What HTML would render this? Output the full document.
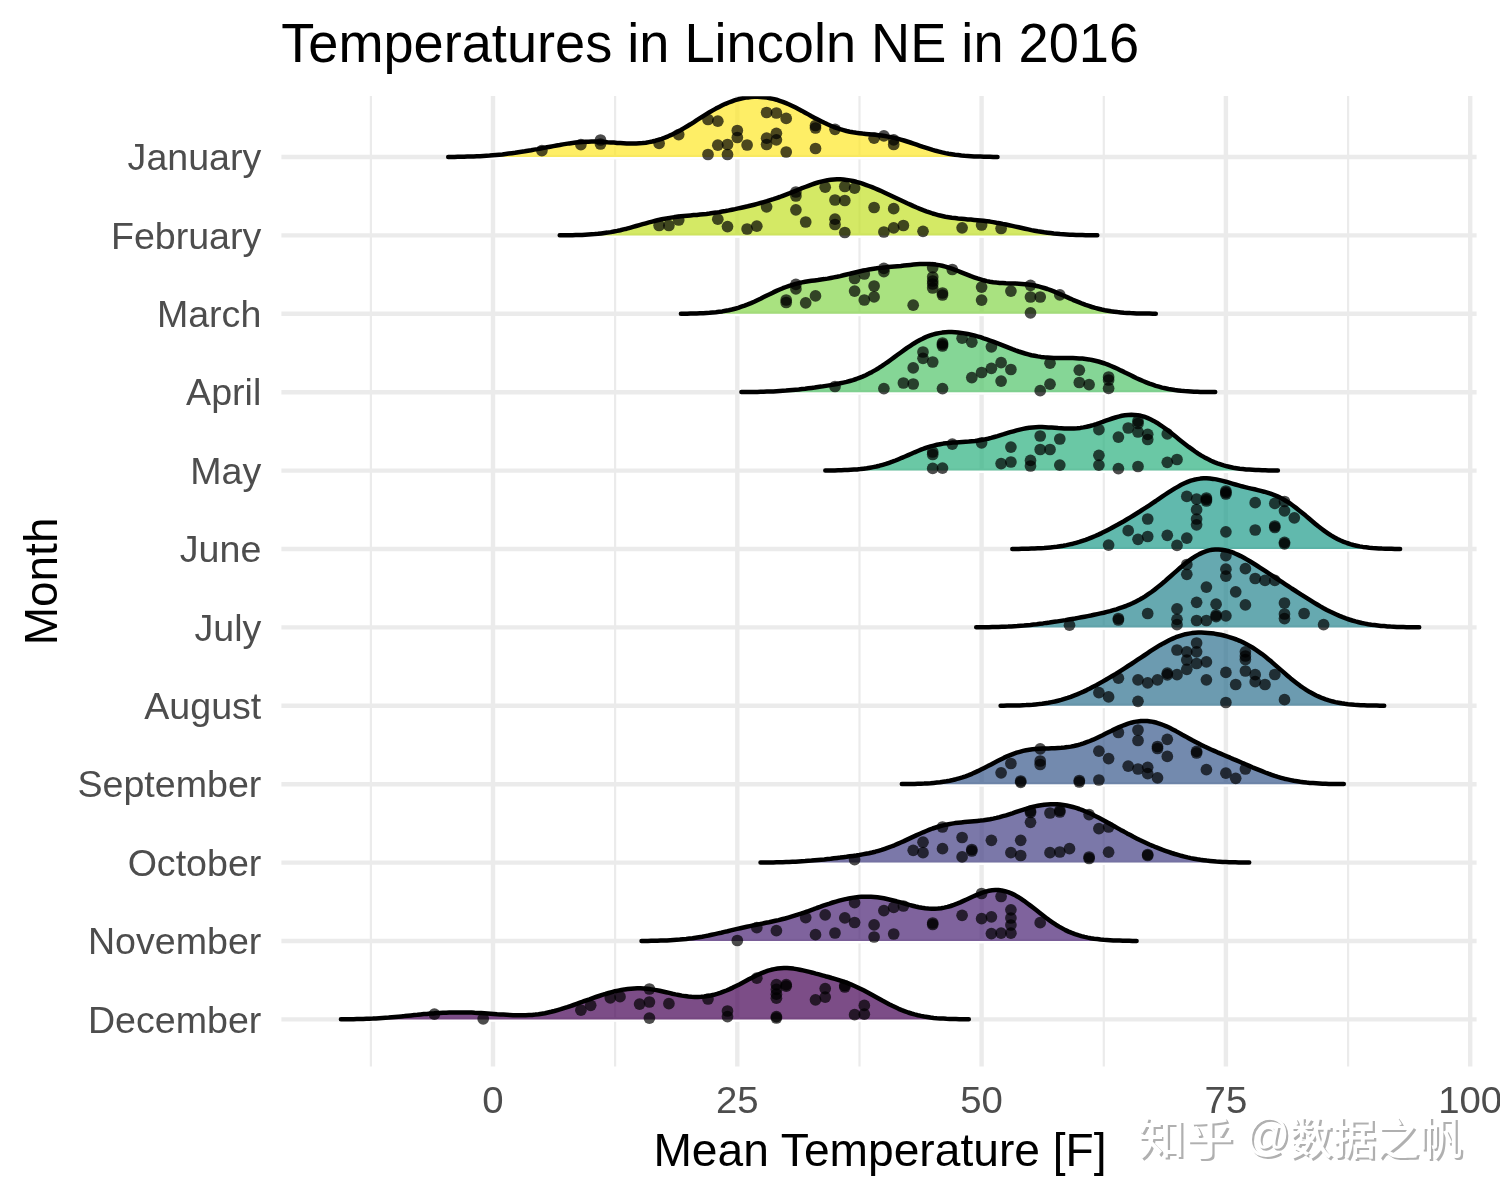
<!DOCTYPE html>
<html lang="en"><head><meta charset="utf-8"><title>Temperatures in Lincoln NE in 2016</title>
<style>html,body{margin:0;padding:0;background:#fff}body{width:1500px;height:1200px;position:relative;overflow:hidden}</style></head>
<body>
<svg width="1500" height="1200" viewBox="0 0 1500 1200" style="display:block;position:absolute;left:0;top:0">
<rect x="0" y="0" width="1500" height="1200" fill="#fff"/>
<g><line x1="370.9" x2="370.9" y1="96" y2="1066.4" stroke="#ebebeb" stroke-width="2.2"/><line x1="615.1" x2="615.1" y1="96" y2="1066.4" stroke="#ebebeb" stroke-width="2.2"/><line x1="859.5" x2="859.5" y1="96" y2="1066.4" stroke="#ebebeb" stroke-width="2.2"/><line x1="1103.8" x2="1103.8" y1="96" y2="1066.4" stroke="#ebebeb" stroke-width="2.2"/><line x1="1348.1" x2="1348.1" y1="96" y2="1066.4" stroke="#ebebeb" stroke-width="2.2"/><line x1="493.0" x2="493.0" y1="96" y2="1066.4" stroke="#ebebeb" stroke-width="4.4"/><line x1="737.3" x2="737.3" y1="96" y2="1066.4" stroke="#ebebeb" stroke-width="4.4"/><line x1="981.6" x2="981.6" y1="96" y2="1066.4" stroke="#ebebeb" stroke-width="4.4"/><line x1="1225.9" x2="1225.9" y1="96" y2="1066.4" stroke="#ebebeb" stroke-width="4.4"/><line x1="1470.2" x2="1470.2" y1="96" y2="1066.4" stroke="#ebebeb" stroke-width="4.4"/><line x1="281.4" x2="1476.6" y1="157.0" y2="157.0" stroke="#ebebeb" stroke-width="4.4"/><line x1="281.4" x2="1476.6" y1="235.4" y2="235.4" stroke="#ebebeb" stroke-width="4.4"/><line x1="281.4" x2="1476.6" y1="313.8" y2="313.8" stroke="#ebebeb" stroke-width="4.4"/><line x1="281.4" x2="1476.6" y1="392.2" y2="392.2" stroke="#ebebeb" stroke-width="4.4"/><line x1="281.4" x2="1476.6" y1="470.6" y2="470.6" stroke="#ebebeb" stroke-width="4.4"/><line x1="281.4" x2="1476.6" y1="549.0" y2="549.0" stroke="#ebebeb" stroke-width="4.4"/><line x1="281.4" x2="1476.6" y1="627.4" y2="627.4" stroke="#ebebeb" stroke-width="4.4"/><line x1="281.4" x2="1476.6" y1="705.8" y2="705.8" stroke="#ebebeb" stroke-width="4.4"/><line x1="281.4" x2="1476.6" y1="784.2" y2="784.2" stroke="#ebebeb" stroke-width="4.4"/><line x1="281.4" x2="1476.6" y1="862.6" y2="862.6" stroke="#ebebeb" stroke-width="4.4"/><line x1="281.4" x2="1476.6" y1="941.0" y2="941.0" stroke="#ebebeb" stroke-width="4.4"/><line x1="281.4" x2="1476.6" y1="1019.4" y2="1019.4" stroke="#ebebeb" stroke-width="4.4"/></g>
<defs><clipPath id="panel"><rect x="281.4" y="96.3" width="1195.1999999999998" height="970.1000000000001"/></clipPath></defs>
<g clip-path="url(#panel)">
<g><rect x="448.2" y="157.0" width="549.3" height="2.4" fill="#fff"/><polygon points="448.2,157.0 448.2,156.9 451.4,156.9 454.6,156.9 457.7,156.8 460.9,156.8 464.1,156.7 467.3,156.6 470.5,156.5 473.7,156.4 476.9,156.3 480.1,156.2 483.2,156.0 486.4,155.8 489.6,155.6 492.8,155.3 496.0,155.0 499.2,154.7 502.4,154.4 505.6,154.0 508.7,153.6 511.9,153.2 515.1,152.8 518.3,152.3 521.5,151.8 524.7,151.3 527.9,150.7 531.1,150.2 534.2,149.6 537.4,149.1 540.6,148.5 543.8,147.9 547.0,147.3 550.2,146.7 553.4,146.1 556.6,145.5 559.7,145.0 562.9,144.4 566.1,143.9 569.3,143.4 572.5,143.0 575.7,142.6 578.9,142.3 582.1,142.0 585.2,141.8 588.4,141.7 591.6,141.6 594.8,141.6 598.0,141.7 601.2,141.8 604.4,141.9 607.5,142.2 610.7,142.4 613.9,142.6 617.1,142.9 620.3,143.1 623.5,143.3 626.7,143.5 629.9,143.6 633.0,143.6 636.2,143.5 639.4,143.3 642.6,143.1 645.8,142.7 649.0,142.1 652.2,141.5 655.4,140.7 658.5,139.8 661.7,138.8 664.9,137.6 668.1,136.3 671.3,134.9 674.5,133.3 677.7,131.7 680.9,130.0 684.0,128.1 687.2,126.2 690.4,124.3 693.6,122.3 696.8,120.2 700.0,118.2 703.2,116.2 706.4,114.2 709.5,112.2 712.7,110.4 715.9,108.6 719.1,106.9 722.3,105.3 725.5,103.8 728.7,102.5 731.9,101.3 735.0,100.2 738.2,99.3 741.4,98.5 744.6,97.9 747.8,97.4 751.0,97.0 754.2,96.8 757.3,96.8 760.5,96.9 763.7,97.2 766.9,97.6 770.1,98.2 773.3,98.9 776.5,99.7 779.7,100.8 782.8,101.9 786.0,103.2 789.2,104.5 792.4,106.0 795.6,107.6 798.8,109.2 802.0,110.9 805.2,112.7 808.3,114.4 811.5,116.2 814.7,117.9 817.9,119.6 821.1,121.2 824.3,122.8 827.5,124.3 830.7,125.7 833.8,127.0 837.0,128.1 840.2,129.2 843.4,130.1 846.6,131.0 849.8,131.7 853.0,132.3 856.2,132.8 859.3,133.2 862.5,133.6 865.7,133.9 868.9,134.2 872.1,134.5 875.3,134.8 878.5,135.2 881.7,135.6 884.8,136.0 888.0,136.6 891.2,137.2 894.4,137.9 897.6,138.7 900.8,139.6 904.0,140.5 907.1,141.5 910.3,142.5 913.5,143.6 916.7,144.7 919.9,145.8 923.1,146.9 926.3,147.9 929.5,148.9 932.6,149.9 935.8,150.8 939.0,151.6 942.2,152.4 945.4,153.1 948.6,153.7 951.8,154.2 955.0,154.7 958.1,155.1 961.3,155.5 964.5,155.8 967.7,156.0 970.9,156.2 974.1,156.4 977.3,156.5 980.5,156.6 983.6,156.7 986.8,156.8 990.0,156.8 993.2,156.9 996.4,156.9 997.5,156.9 997.5,157.0" fill="#FDE725" fill-opacity="0.7"/>
<polyline points="448.2,156.9 451.4,156.9 454.6,156.9 457.7,156.8 460.9,156.8 464.1,156.7 467.3,156.6 470.5,156.5 473.7,156.4 476.9,156.3 480.1,156.2 483.2,156.0 486.4,155.8 489.6,155.6 492.8,155.3 496.0,155.0 499.2,154.7 502.4,154.4 505.6,154.0 508.7,153.6 511.9,153.2 515.1,152.8 518.3,152.3 521.5,151.8 524.7,151.3 527.9,150.7 531.1,150.2 534.2,149.6 537.4,149.1 540.6,148.5 543.8,147.9 547.0,147.3 550.2,146.7 553.4,146.1 556.6,145.5 559.7,145.0 562.9,144.4 566.1,143.9 569.3,143.4 572.5,143.0 575.7,142.6 578.9,142.3 582.1,142.0 585.2,141.8 588.4,141.7 591.6,141.6 594.8,141.6 598.0,141.7 601.2,141.8 604.4,141.9 607.5,142.2 610.7,142.4 613.9,142.6 617.1,142.9 620.3,143.1 623.5,143.3 626.7,143.5 629.9,143.6 633.0,143.6 636.2,143.5 639.4,143.3 642.6,143.1 645.8,142.7 649.0,142.1 652.2,141.5 655.4,140.7 658.5,139.8 661.7,138.8 664.9,137.6 668.1,136.3 671.3,134.9 674.5,133.3 677.7,131.7 680.9,130.0 684.0,128.1 687.2,126.2 690.4,124.3 693.6,122.3 696.8,120.2 700.0,118.2 703.2,116.2 706.4,114.2 709.5,112.2 712.7,110.4 715.9,108.6 719.1,106.9 722.3,105.3 725.5,103.8 728.7,102.5 731.9,101.3 735.0,100.2 738.2,99.3 741.4,98.5 744.6,97.9 747.8,97.4 751.0,97.0 754.2,96.8 757.3,96.8 760.5,96.9 763.7,97.2 766.9,97.6 770.1,98.2 773.3,98.9 776.5,99.7 779.7,100.8 782.8,101.9 786.0,103.2 789.2,104.5 792.4,106.0 795.6,107.6 798.8,109.2 802.0,110.9 805.2,112.7 808.3,114.4 811.5,116.2 814.7,117.9 817.9,119.6 821.1,121.2 824.3,122.8 827.5,124.3 830.7,125.7 833.8,127.0 837.0,128.1 840.2,129.2 843.4,130.1 846.6,131.0 849.8,131.7 853.0,132.3 856.2,132.8 859.3,133.2 862.5,133.6 865.7,133.9 868.9,134.2 872.1,134.5 875.3,134.8 878.5,135.2 881.7,135.6 884.8,136.0 888.0,136.6 891.2,137.2 894.4,137.9 897.6,138.7 900.8,139.6 904.0,140.5 907.1,141.5 910.3,142.5 913.5,143.6 916.7,144.7 919.9,145.8 923.1,146.9 926.3,147.9 929.5,148.9 932.6,149.9 935.8,150.8 939.0,151.6 942.2,152.4 945.4,153.1 948.6,153.7 951.8,154.2 955.0,154.7 958.1,155.1 961.3,155.5 964.5,155.8 967.7,156.0 970.9,156.2 974.1,156.4 977.3,156.5 980.5,156.6 983.6,156.7 986.8,156.8 990.0,156.8 993.2,156.9 996.4,156.9 997.5,156.9" fill="none" stroke="#000" stroke-width="4.5" stroke-linejoin="round" stroke-linecap="round"/>
<g fill="#000" fill-opacity="0.7"><circle cx="541.9" cy="150.6" r="5.85"/><circle cx="580.9" cy="144.6" r="5.85"/><circle cx="600.5" cy="144.0" r="5.85"/><circle cx="600.5" cy="140.0" r="5.85"/><circle cx="659.1" cy="143.4" r="5.85"/><circle cx="678.7" cy="134.6" r="5.85"/><circle cx="708.0" cy="119.5" r="5.85"/><circle cx="717.8" cy="121.2" r="5.85"/><circle cx="708.0" cy="154.5" r="5.85"/><circle cx="717.8" cy="145.2" r="5.85"/><circle cx="727.5" cy="144.5" r="5.85"/><circle cx="727.5" cy="154.5" r="5.85"/><circle cx="737.3" cy="130.5" r="5.85"/><circle cx="737.3" cy="137.5" r="5.85"/><circle cx="747.1" cy="145.0" r="5.85"/><circle cx="766.6" cy="112.5" r="5.85"/><circle cx="776.4" cy="113.0" r="5.85"/><circle cx="786.2" cy="118.4" r="5.85"/><circle cx="766.6" cy="138.2" r="5.85"/><circle cx="766.6" cy="144.5" r="5.85"/><circle cx="776.4" cy="133.3" r="5.85"/><circle cx="776.4" cy="139.8" r="5.85"/><circle cx="786.2" cy="152.0" r="5.85"/><circle cx="815.5" cy="125.5" r="5.85"/><circle cx="815.5" cy="128.0" r="5.85"/><circle cx="815.5" cy="148.5" r="5.85"/><circle cx="835.0" cy="129.3" r="5.85"/><circle cx="874.1" cy="138.2" r="5.85"/><circle cx="883.9" cy="135.9" r="5.85"/><circle cx="893.7" cy="139.8" r="5.85"/><circle cx="893.7" cy="144.5" r="5.85"/></g></g>
<g><rect x="559.7" y="235.4" width="537.6" height="2.4" fill="#fff"/><polygon points="559.7,235.4 559.7,235.3 562.9,235.3 566.1,235.3 569.3,235.2 572.5,235.2 575.7,235.1 578.9,235.0 582.1,234.9 585.2,234.7 588.4,234.5 591.6,234.3 594.8,234.1 598.0,233.8 601.2,233.4 604.4,233.0 607.5,232.6 610.7,232.1 613.9,231.5 617.1,230.9 620.3,230.2 623.5,229.4 626.7,228.7 629.9,227.8 633.0,226.9 636.2,226.0 639.4,225.1 642.6,224.2 645.8,223.3 649.0,222.4 652.2,221.6 655.4,220.8 658.5,220.0 661.7,219.3 664.9,218.7 668.1,218.1 671.3,217.6 674.5,217.1 677.7,216.7 680.9,216.3 684.0,216.0 687.2,215.7 690.4,215.4 693.6,215.1 696.8,214.9 700.0,214.5 703.2,214.2 706.4,213.9 709.5,213.5 712.7,213.0 715.9,212.6 719.1,212.1 722.3,211.5 725.5,211.0 728.7,210.4 731.9,209.7 735.0,209.1 738.2,208.4 741.4,207.7 744.6,207.0 747.8,206.3 751.0,205.5 754.2,204.7 757.3,203.9 760.5,203.0 763.7,202.1 766.9,201.2 770.1,200.2 773.3,199.2 776.5,198.1 779.7,197.0 782.8,195.8 786.0,194.6 789.2,193.4 792.4,192.1 795.6,190.8 798.8,189.5 802.0,188.2 805.2,187.0 808.3,185.8 811.5,184.6 814.7,183.5 817.9,182.5 821.1,181.6 824.3,180.9 827.5,180.2 830.7,179.8 833.8,179.5 837.0,179.3 840.2,179.3 843.4,179.5 846.6,179.9 849.8,180.4 853.0,181.0 856.2,181.8 859.3,182.7 862.5,183.7 865.7,184.8 868.9,186.0 872.1,187.2 875.3,188.5 878.5,189.9 881.7,191.3 884.8,192.7 888.0,194.2 891.2,195.7 894.4,197.2 897.6,198.7 900.8,200.2 904.0,201.7 907.1,203.2 910.3,204.6 913.5,206.1 916.7,207.5 919.9,208.8 923.1,210.1 926.3,211.3 929.5,212.4 932.6,213.5 935.8,214.4 939.0,215.3 942.2,216.0 945.4,216.7 948.6,217.2 951.8,217.7 955.0,218.1 958.1,218.5 961.3,218.8 964.5,219.1 967.7,219.4 970.9,219.6 974.1,219.9 977.3,220.2 980.5,220.5 983.6,220.8 986.8,221.2 990.0,221.6 993.2,222.1 996.4,222.7 999.6,223.2 1002.8,223.9 1006.0,224.5 1009.1,225.2 1012.3,225.9 1015.5,226.6 1018.7,227.3 1021.9,228.0 1025.1,228.7 1028.3,229.4 1031.4,230.1 1034.6,230.7 1037.8,231.3 1041.0,231.8 1044.2,232.3 1047.4,232.7 1050.6,233.1 1053.8,233.5 1056.9,233.8 1060.1,234.1 1063.3,234.3 1066.5,234.5 1069.7,234.7 1072.9,234.8 1076.1,234.9 1079.3,235.0 1082.4,235.1 1085.6,235.2 1088.8,235.2 1092.0,235.3 1095.2,235.3 1097.3,235.3 1097.3,235.4" fill="#C2DF23" fill-opacity="0.7"/>
<polyline points="559.7,235.3 562.9,235.3 566.1,235.3 569.3,235.2 572.5,235.2 575.7,235.1 578.9,235.0 582.1,234.9 585.2,234.7 588.4,234.5 591.6,234.3 594.8,234.1 598.0,233.8 601.2,233.4 604.4,233.0 607.5,232.6 610.7,232.1 613.9,231.5 617.1,230.9 620.3,230.2 623.5,229.4 626.7,228.7 629.9,227.8 633.0,226.9 636.2,226.0 639.4,225.1 642.6,224.2 645.8,223.3 649.0,222.4 652.2,221.6 655.4,220.8 658.5,220.0 661.7,219.3 664.9,218.7 668.1,218.1 671.3,217.6 674.5,217.1 677.7,216.7 680.9,216.3 684.0,216.0 687.2,215.7 690.4,215.4 693.6,215.1 696.8,214.9 700.0,214.5 703.2,214.2 706.4,213.9 709.5,213.5 712.7,213.0 715.9,212.6 719.1,212.1 722.3,211.5 725.5,211.0 728.7,210.4 731.9,209.7 735.0,209.1 738.2,208.4 741.4,207.7 744.6,207.0 747.8,206.3 751.0,205.5 754.2,204.7 757.3,203.9 760.5,203.0 763.7,202.1 766.9,201.2 770.1,200.2 773.3,199.2 776.5,198.1 779.7,197.0 782.8,195.8 786.0,194.6 789.2,193.4 792.4,192.1 795.6,190.8 798.8,189.5 802.0,188.2 805.2,187.0 808.3,185.8 811.5,184.6 814.7,183.5 817.9,182.5 821.1,181.6 824.3,180.9 827.5,180.2 830.7,179.8 833.8,179.5 837.0,179.3 840.2,179.3 843.4,179.5 846.6,179.9 849.8,180.4 853.0,181.0 856.2,181.8 859.3,182.7 862.5,183.7 865.7,184.8 868.9,186.0 872.1,187.2 875.3,188.5 878.5,189.9 881.7,191.3 884.8,192.7 888.0,194.2 891.2,195.7 894.4,197.2 897.6,198.7 900.8,200.2 904.0,201.7 907.1,203.2 910.3,204.6 913.5,206.1 916.7,207.5 919.9,208.8 923.1,210.1 926.3,211.3 929.5,212.4 932.6,213.5 935.8,214.4 939.0,215.3 942.2,216.0 945.4,216.7 948.6,217.2 951.8,217.7 955.0,218.1 958.1,218.5 961.3,218.8 964.5,219.1 967.7,219.4 970.9,219.6 974.1,219.9 977.3,220.2 980.5,220.5 983.6,220.8 986.8,221.2 990.0,221.6 993.2,222.1 996.4,222.7 999.6,223.2 1002.8,223.9 1006.0,224.5 1009.1,225.2 1012.3,225.9 1015.5,226.6 1018.7,227.3 1021.9,228.0 1025.1,228.7 1028.3,229.4 1031.4,230.1 1034.6,230.7 1037.8,231.3 1041.0,231.8 1044.2,232.3 1047.4,232.7 1050.6,233.1 1053.8,233.5 1056.9,233.8 1060.1,234.1 1063.3,234.3 1066.5,234.5 1069.7,234.7 1072.9,234.8 1076.1,234.9 1079.3,235.0 1082.4,235.1 1085.6,235.2 1088.8,235.2 1092.0,235.3 1095.2,235.3 1097.3,235.3" fill="none" stroke="#000" stroke-width="4.5" stroke-linejoin="round" stroke-linecap="round"/>
<g fill="#000" fill-opacity="0.7"><circle cx="659.1" cy="225.5" r="5.85"/><circle cx="668.9" cy="225.5" r="5.85"/><circle cx="678.7" cy="220.0" r="5.85"/><circle cx="717.8" cy="219.2" r="5.85"/><circle cx="727.5" cy="226.6" r="5.85"/><circle cx="747.1" cy="229.0" r="5.85"/><circle cx="756.8" cy="226.2" r="5.85"/><circle cx="766.6" cy="206.8" r="5.85"/><circle cx="795.9" cy="192.0" r="5.85"/><circle cx="795.9" cy="196.0" r="5.85"/><circle cx="795.9" cy="209.8" r="5.85"/><circle cx="805.7" cy="222.0" r="5.85"/><circle cx="825.2" cy="187.2" r="5.85"/><circle cx="835.0" cy="200.0" r="5.85"/><circle cx="844.8" cy="200.5" r="5.85"/><circle cx="844.8" cy="186.5" r="5.85"/><circle cx="854.6" cy="188.1" r="5.85"/><circle cx="835.0" cy="219.2" r="5.85"/><circle cx="835.0" cy="224.5" r="5.85"/><circle cx="844.8" cy="232.5" r="5.85"/><circle cx="874.1" cy="207.5" r="5.85"/><circle cx="893.7" cy="208.7" r="5.85"/><circle cx="883.9" cy="232.0" r="5.85"/><circle cx="893.7" cy="227.8" r="5.85"/><circle cx="903.4" cy="225.5" r="5.85"/><circle cx="923.0" cy="231.3" r="5.85"/><circle cx="962.1" cy="227.8" r="5.85"/><circle cx="981.6" cy="225.0" r="5.85"/><circle cx="1001.1" cy="228.5" r="5.85"/></g></g>
<g><rect x="680.9" y="313.8" width="474.9" height="2.4" fill="#fff"/><polygon points="680.9,313.8 680.9,313.7 684.0,313.7 687.2,313.7 690.4,313.6 693.6,313.5 696.8,313.4 700.0,313.3 703.2,313.2 706.4,313.0 709.5,312.8 712.7,312.5 715.9,312.2 719.1,311.8 722.3,311.4 725.5,310.8 728.7,310.2 731.9,309.5 735.0,308.7 738.2,307.8 741.4,306.7 744.6,305.6 747.8,304.4 751.0,303.1 754.2,301.7 757.3,300.2 760.5,298.7 763.7,297.1 766.9,295.5 770.1,294.0 773.3,292.4 776.5,290.9 779.7,289.5 782.8,288.2 786.0,287.0 789.2,285.8 792.4,284.8 795.6,283.9 798.8,283.1 802.0,282.4 805.2,281.8 808.3,281.3 811.5,280.8 814.7,280.4 817.9,280.0 821.1,279.5 824.3,279.1 827.5,278.6 830.7,278.0 833.8,277.4 837.0,276.8 840.2,276.1 843.4,275.3 846.6,274.5 849.8,273.8 853.0,273.0 856.2,272.2 859.3,271.5 862.5,270.8 865.7,270.1 868.9,269.5 872.1,269.0 875.3,268.5 878.5,268.1 881.7,267.8 884.8,267.4 888.0,267.1 891.2,266.8 894.4,266.5 897.6,266.2 900.8,265.9 904.0,265.5 907.1,265.2 910.3,264.9 913.5,264.6 916.7,264.3 919.9,264.1 923.1,264.0 926.3,264.0 929.5,264.0 932.6,264.3 935.8,264.6 939.0,265.1 942.2,265.8 945.4,266.6 948.6,267.6 951.8,268.6 955.0,269.8 958.1,271.0 961.3,272.3 964.5,273.6 967.7,274.9 970.9,276.2 974.1,277.3 977.3,278.4 980.5,279.4 983.6,280.3 986.8,281.1 990.0,281.7 993.2,282.2 996.4,282.6 999.6,282.9 1002.8,283.1 1006.0,283.3 1009.1,283.4 1012.3,283.5 1015.5,283.6 1018.7,283.7 1021.9,283.9 1025.1,284.2 1028.3,284.5 1031.4,285.0 1034.6,285.5 1037.8,286.2 1041.0,287.1 1044.2,288.0 1047.4,289.0 1050.6,290.2 1053.8,291.4 1056.9,292.8 1060.1,294.1 1063.3,295.5 1066.5,296.9 1069.7,298.4 1072.9,299.8 1076.1,301.1 1079.3,302.4 1082.4,303.7 1085.6,304.9 1088.8,305.9 1092.0,307.0 1095.2,307.9 1098.4,308.7 1101.6,309.5 1104.8,310.2 1107.9,310.7 1111.1,311.3 1114.3,311.7 1117.5,312.1 1120.7,312.4 1123.9,312.7 1127.1,312.9 1130.3,313.1 1133.4,313.2 1136.6,313.4 1139.8,313.5 1143.0,313.5 1146.2,313.6 1149.4,313.6 1152.6,313.7 1155.8,313.7 1155.8,313.8" fill="#85D54A" fill-opacity="0.7"/>
<polyline points="680.9,313.7 684.0,313.7 687.2,313.7 690.4,313.6 693.6,313.5 696.8,313.4 700.0,313.3 703.2,313.2 706.4,313.0 709.5,312.8 712.7,312.5 715.9,312.2 719.1,311.8 722.3,311.4 725.5,310.8 728.7,310.2 731.9,309.5 735.0,308.7 738.2,307.8 741.4,306.7 744.6,305.6 747.8,304.4 751.0,303.1 754.2,301.7 757.3,300.2 760.5,298.7 763.7,297.1 766.9,295.5 770.1,294.0 773.3,292.4 776.5,290.9 779.7,289.5 782.8,288.2 786.0,287.0 789.2,285.8 792.4,284.8 795.6,283.9 798.8,283.1 802.0,282.4 805.2,281.8 808.3,281.3 811.5,280.8 814.7,280.4 817.9,280.0 821.1,279.5 824.3,279.1 827.5,278.6 830.7,278.0 833.8,277.4 837.0,276.8 840.2,276.1 843.4,275.3 846.6,274.5 849.8,273.8 853.0,273.0 856.2,272.2 859.3,271.5 862.5,270.8 865.7,270.1 868.9,269.5 872.1,269.0 875.3,268.5 878.5,268.1 881.7,267.8 884.8,267.4 888.0,267.1 891.2,266.8 894.4,266.5 897.6,266.2 900.8,265.9 904.0,265.5 907.1,265.2 910.3,264.9 913.5,264.6 916.7,264.3 919.9,264.1 923.1,264.0 926.3,264.0 929.5,264.0 932.6,264.3 935.8,264.6 939.0,265.1 942.2,265.8 945.4,266.6 948.6,267.6 951.8,268.6 955.0,269.8 958.1,271.0 961.3,272.3 964.5,273.6 967.7,274.9 970.9,276.2 974.1,277.3 977.3,278.4 980.5,279.4 983.6,280.3 986.8,281.1 990.0,281.7 993.2,282.2 996.4,282.6 999.6,282.9 1002.8,283.1 1006.0,283.3 1009.1,283.4 1012.3,283.5 1015.5,283.6 1018.7,283.7 1021.9,283.9 1025.1,284.2 1028.3,284.5 1031.4,285.0 1034.6,285.5 1037.8,286.2 1041.0,287.1 1044.2,288.0 1047.4,289.0 1050.6,290.2 1053.8,291.4 1056.9,292.8 1060.1,294.1 1063.3,295.5 1066.5,296.9 1069.7,298.4 1072.9,299.8 1076.1,301.1 1079.3,302.4 1082.4,303.7 1085.6,304.9 1088.8,305.9 1092.0,307.0 1095.2,307.9 1098.4,308.7 1101.6,309.5 1104.8,310.2 1107.9,310.7 1111.1,311.3 1114.3,311.7 1117.5,312.1 1120.7,312.4 1123.9,312.7 1127.1,312.9 1130.3,313.1 1133.4,313.2 1136.6,313.4 1139.8,313.5 1143.0,313.5 1146.2,313.6 1149.4,313.6 1152.6,313.7 1155.8,313.7" fill="none" stroke="#000" stroke-width="4.5" stroke-linejoin="round" stroke-linecap="round"/>
<g fill="#000" fill-opacity="0.7"><circle cx="786.2" cy="300.0" r="5.85"/><circle cx="786.2" cy="302.5" r="5.85"/><circle cx="795.9" cy="284.4" r="5.85"/><circle cx="795.9" cy="288.9" r="5.85"/><circle cx="805.7" cy="302.8" r="5.85"/><circle cx="815.5" cy="295.9" r="5.85"/><circle cx="854.6" cy="278.5" r="5.85"/><circle cx="854.6" cy="291.1" r="5.85"/><circle cx="864.3" cy="274.0" r="5.85"/><circle cx="864.3" cy="300.0" r="5.85"/><circle cx="874.1" cy="286.0" r="5.85"/><circle cx="874.1" cy="296.9" r="5.85"/><circle cx="883.9" cy="268.4" r="5.85"/><circle cx="883.9" cy="271.6" r="5.85"/><circle cx="913.2" cy="305.2" r="5.85"/><circle cx="932.7" cy="267.6" r="5.85"/><circle cx="932.7" cy="277.0" r="5.85"/><circle cx="932.7" cy="281.0" r="5.85"/><circle cx="932.7" cy="284.0" r="5.85"/><circle cx="932.7" cy="288.0" r="5.85"/><circle cx="942.5" cy="293.0" r="5.85"/><circle cx="942.5" cy="295.0" r="5.85"/><circle cx="952.3" cy="269.5" r="5.85"/><circle cx="981.6" cy="287.1" r="5.85"/><circle cx="981.6" cy="300.1" r="5.85"/><circle cx="1010.9" cy="291.1" r="5.85"/><circle cx="1030.5" cy="285.3" r="5.85"/><circle cx="1030.5" cy="297.0" r="5.85"/><circle cx="1040.2" cy="297.0" r="5.85"/><circle cx="1030.5" cy="312.8" r="5.85"/><circle cx="1059.8" cy="294.9" r="5.85"/></g></g>
<g><rect x="741.4" y="392.2" width="473.8" height="2.4" fill="#fff"/><polygon points="741.4,392.2 741.4,392.1 744.6,392.1 747.8,392.1 751.0,392.0 754.2,392.0 757.3,391.9 760.5,391.8 763.7,391.7 766.9,391.6 770.1,391.5 773.3,391.4 776.5,391.2 779.7,391.0 782.8,390.8 786.0,390.6 789.2,390.3 792.4,390.0 795.6,389.7 798.8,389.4 802.0,389.0 805.2,388.7 808.3,388.3 811.5,387.9 814.7,387.5 817.9,387.0 821.1,386.6 824.3,386.1 827.5,385.6 830.7,385.1 833.8,384.6 837.0,384.0 840.2,383.3 843.4,382.6 846.6,381.9 849.8,381.0 853.0,380.1 856.2,379.0 859.3,377.8 862.5,376.6 865.7,375.2 868.9,373.6 872.1,371.9 875.3,370.1 878.5,368.2 881.7,366.2 884.8,364.0 888.0,361.8 891.2,359.5 894.4,357.2 897.6,354.8 900.8,352.5 904.0,350.2 907.1,347.9 910.3,345.8 913.5,343.7 916.7,341.8 919.9,340.0 923.1,338.4 926.3,336.9 929.5,335.7 932.6,334.6 935.8,333.8 939.0,333.1 942.2,332.6 945.4,332.2 948.6,332.1 951.8,332.1 955.0,332.2 958.1,332.5 961.3,332.9 964.5,333.4 967.7,334.0 970.9,334.7 974.1,335.4 977.3,336.3 980.5,337.2 983.6,338.3 986.8,339.3 990.0,340.5 993.2,341.7 996.4,342.9 999.6,344.1 1002.8,345.4 1006.0,346.7 1009.1,347.9 1012.3,349.2 1015.5,350.4 1018.7,351.5 1021.9,352.5 1025.1,353.5 1028.3,354.4 1031.4,355.2 1034.6,355.8 1037.8,356.4 1041.0,356.9 1044.2,357.3 1047.4,357.5 1050.6,357.7 1053.8,357.9 1056.9,358.0 1060.1,358.0 1063.3,358.0 1066.5,358.0 1069.7,358.0 1072.9,358.1 1076.1,358.2 1079.3,358.4 1082.4,358.6 1085.6,359.0 1088.8,359.4 1092.0,360.0 1095.2,360.7 1098.4,361.5 1101.6,362.5 1104.8,363.5 1107.9,364.7 1111.1,366.0 1114.3,367.4 1117.5,368.8 1120.7,370.4 1123.9,371.9 1127.1,373.5 1130.3,375.1 1133.4,376.6 1136.6,378.2 1139.8,379.6 1143.0,381.0 1146.2,382.3 1149.4,383.6 1152.6,384.7 1155.8,385.8 1158.9,386.7 1162.1,387.6 1165.3,388.3 1168.5,389.0 1171.7,389.5 1174.9,390.0 1178.1,390.4 1181.2,390.8 1184.4,391.1 1187.6,391.3 1190.8,391.5 1194.0,391.7 1197.2,391.8 1200.4,391.9 1203.6,392.0 1206.7,392.0 1209.9,392.1 1213.1,392.1 1215.2,392.1 1215.2,392.2" fill="#51C56A" fill-opacity="0.7"/>
<polyline points="741.4,392.1 744.6,392.1 747.8,392.1 751.0,392.0 754.2,392.0 757.3,391.9 760.5,391.8 763.7,391.7 766.9,391.6 770.1,391.5 773.3,391.4 776.5,391.2 779.7,391.0 782.8,390.8 786.0,390.6 789.2,390.3 792.4,390.0 795.6,389.7 798.8,389.4 802.0,389.0 805.2,388.7 808.3,388.3 811.5,387.9 814.7,387.5 817.9,387.0 821.1,386.6 824.3,386.1 827.5,385.6 830.7,385.1 833.8,384.6 837.0,384.0 840.2,383.3 843.4,382.6 846.6,381.9 849.8,381.0 853.0,380.1 856.2,379.0 859.3,377.8 862.5,376.6 865.7,375.2 868.9,373.6 872.1,371.9 875.3,370.1 878.5,368.2 881.7,366.2 884.8,364.0 888.0,361.8 891.2,359.5 894.4,357.2 897.6,354.8 900.8,352.5 904.0,350.2 907.1,347.9 910.3,345.8 913.5,343.7 916.7,341.8 919.9,340.0 923.1,338.4 926.3,336.9 929.5,335.7 932.6,334.6 935.8,333.8 939.0,333.1 942.2,332.6 945.4,332.2 948.6,332.1 951.8,332.1 955.0,332.2 958.1,332.5 961.3,332.9 964.5,333.4 967.7,334.0 970.9,334.7 974.1,335.4 977.3,336.3 980.5,337.2 983.6,338.3 986.8,339.3 990.0,340.5 993.2,341.7 996.4,342.9 999.6,344.1 1002.8,345.4 1006.0,346.7 1009.1,347.9 1012.3,349.2 1015.5,350.4 1018.7,351.5 1021.9,352.5 1025.1,353.5 1028.3,354.4 1031.4,355.2 1034.6,355.8 1037.8,356.4 1041.0,356.9 1044.2,357.3 1047.4,357.5 1050.6,357.7 1053.8,357.9 1056.9,358.0 1060.1,358.0 1063.3,358.0 1066.5,358.0 1069.7,358.0 1072.9,358.1 1076.1,358.2 1079.3,358.4 1082.4,358.6 1085.6,359.0 1088.8,359.4 1092.0,360.0 1095.2,360.7 1098.4,361.5 1101.6,362.5 1104.8,363.5 1107.9,364.7 1111.1,366.0 1114.3,367.4 1117.5,368.8 1120.7,370.4 1123.9,371.9 1127.1,373.5 1130.3,375.1 1133.4,376.6 1136.6,378.2 1139.8,379.6 1143.0,381.0 1146.2,382.3 1149.4,383.6 1152.6,384.7 1155.8,385.8 1158.9,386.7 1162.1,387.6 1165.3,388.3 1168.5,389.0 1171.7,389.5 1174.9,390.0 1178.1,390.4 1181.2,390.8 1184.4,391.1 1187.6,391.3 1190.8,391.5 1194.0,391.7 1197.2,391.8 1200.4,391.9 1203.6,392.0 1206.7,392.0 1209.9,392.1 1213.1,392.1 1215.2,392.1" fill="none" stroke="#000" stroke-width="4.5" stroke-linejoin="round" stroke-linecap="round"/>
<g fill="#000" fill-opacity="0.7"><circle cx="835.0" cy="386.5" r="5.85"/><circle cx="883.9" cy="388.6" r="5.85"/><circle cx="903.4" cy="383.0" r="5.85"/><circle cx="913.2" cy="384.0" r="5.85"/><circle cx="913.2" cy="367.9" r="5.85"/><circle cx="923.0" cy="352.0" r="5.85"/><circle cx="923.0" cy="358.3" r="5.85"/><circle cx="932.7" cy="362.0" r="5.85"/><circle cx="942.5" cy="343.0" r="5.85"/><circle cx="942.5" cy="346.0" r="5.85"/><circle cx="942.5" cy="388.6" r="5.85"/><circle cx="962.1" cy="338.2" r="5.85"/><circle cx="971.8" cy="342.2" r="5.85"/><circle cx="991.4" cy="346.8" r="5.85"/><circle cx="971.8" cy="377.6" r="5.85"/><circle cx="981.6" cy="372.5" r="5.85"/><circle cx="991.4" cy="368.3" r="5.85"/><circle cx="1001.1" cy="362.7" r="5.85"/><circle cx="1001.1" cy="381.1" r="5.85"/><circle cx="1010.9" cy="369.5" r="5.85"/><circle cx="1040.2" cy="390.7" r="5.85"/><circle cx="1050.0" cy="363.2" r="5.85"/><circle cx="1050.0" cy="384.2" r="5.85"/><circle cx="1079.3" cy="370.2" r="5.85"/><circle cx="1079.3" cy="382.5" r="5.85"/><circle cx="1089.1" cy="384.6" r="5.85"/><circle cx="1108.6" cy="377.0" r="5.85"/><circle cx="1108.6" cy="380.0" r="5.85"/><circle cx="1108.6" cy="388.4" r="5.85"/><circle cx="942.5" cy="344.5" r="5.85"/></g></g>
<g><rect x="825.3" y="470.6" width="452.6" height="2.4" fill="#fff"/><polygon points="825.3,470.6 825.3,470.5 828.5,470.5 831.7,470.5 834.9,470.4 838.1,470.3 841.3,470.3 844.5,470.1 847.7,470.0 850.8,469.8 854.0,469.6 857.2,469.4 860.4,469.1 863.6,468.7 866.8,468.3 870.0,467.7 873.2,467.1 876.3,466.5 879.5,465.7 882.7,464.8 885.9,463.9 889.1,462.8 892.3,461.7 895.5,460.5 898.6,459.2 901.8,457.8 905.0,456.5 908.2,455.1 911.4,453.7 914.6,452.3 917.8,451.0 921.0,449.7 924.1,448.5 927.3,447.4 930.5,446.4 933.7,445.6 936.9,444.8 940.1,444.2 943.3,443.6 946.5,443.2 949.6,442.9 952.8,442.6 956.0,442.4 959.2,442.2 962.4,442.0 965.6,441.8 968.8,441.6 972.0,441.3 975.1,441.0 978.3,440.5 981.5,440.0 984.7,439.4 987.9,438.7 991.1,437.9 994.3,437.0 997.5,436.1 1000.6,435.1 1003.8,434.2 1007.0,433.2 1010.2,432.2 1013.4,431.3 1016.6,430.4 1019.8,429.6 1023.0,428.9 1026.1,428.3 1029.3,427.8 1032.5,427.5 1035.7,427.3 1038.9,427.1 1042.1,427.1 1045.3,427.2 1048.4,427.4 1051.6,427.6 1054.8,427.8 1058.0,428.1 1061.2,428.3 1064.4,428.5 1067.6,428.6 1070.8,428.6 1073.9,428.5 1077.1,428.3 1080.3,427.9 1083.5,427.4 1086.7,426.8 1089.9,426.0 1093.1,425.1 1096.3,424.1 1099.4,423.0 1102.6,421.9 1105.8,420.7 1109.0,419.6 1112.2,418.5 1115.4,417.5 1118.6,416.6 1121.8,415.8 1124.9,415.3 1128.1,414.9 1131.3,414.7 1134.5,414.9 1137.7,415.2 1140.9,415.8 1144.1,416.7 1147.3,417.9 1150.4,419.3 1153.6,420.9 1156.8,422.7 1160.0,424.8 1163.2,427.0 1166.4,429.3 1169.6,431.8 1172.7,434.3 1175.9,436.8 1179.1,439.4 1182.3,441.9 1185.5,444.4 1188.7,446.9 1191.9,449.2 1195.1,451.5 1198.2,453.6 1201.4,455.6 1204.6,457.4 1207.8,459.1 1211.0,460.7 1214.2,462.1 1217.4,463.3 1220.6,464.4 1223.7,465.4 1226.9,466.3 1230.1,467.0 1233.3,467.7 1236.5,468.2 1239.7,468.7 1242.9,469.0 1246.1,469.4 1249.2,469.6 1252.4,469.8 1255.6,470.0 1258.8,470.1 1262.0,470.2 1265.2,470.3 1268.4,470.4 1271.6,470.5 1274.7,470.5 1277.9,470.5 1277.9,470.6" fill="#2BB07F" fill-opacity="0.7"/>
<polyline points="825.3,470.5 828.5,470.5 831.7,470.5 834.9,470.4 838.1,470.3 841.3,470.3 844.5,470.1 847.7,470.0 850.8,469.8 854.0,469.6 857.2,469.4 860.4,469.1 863.6,468.7 866.8,468.3 870.0,467.7 873.2,467.1 876.3,466.5 879.5,465.7 882.7,464.8 885.9,463.9 889.1,462.8 892.3,461.7 895.5,460.5 898.6,459.2 901.8,457.8 905.0,456.5 908.2,455.1 911.4,453.7 914.6,452.3 917.8,451.0 921.0,449.7 924.1,448.5 927.3,447.4 930.5,446.4 933.7,445.6 936.9,444.8 940.1,444.2 943.3,443.6 946.5,443.2 949.6,442.9 952.8,442.6 956.0,442.4 959.2,442.2 962.4,442.0 965.6,441.8 968.8,441.6 972.0,441.3 975.1,441.0 978.3,440.5 981.5,440.0 984.7,439.4 987.9,438.7 991.1,437.9 994.3,437.0 997.5,436.1 1000.6,435.1 1003.8,434.2 1007.0,433.2 1010.2,432.2 1013.4,431.3 1016.6,430.4 1019.8,429.6 1023.0,428.9 1026.1,428.3 1029.3,427.8 1032.5,427.5 1035.7,427.3 1038.9,427.1 1042.1,427.1 1045.3,427.2 1048.4,427.4 1051.6,427.6 1054.8,427.8 1058.0,428.1 1061.2,428.3 1064.4,428.5 1067.6,428.6 1070.8,428.6 1073.9,428.5 1077.1,428.3 1080.3,427.9 1083.5,427.4 1086.7,426.8 1089.9,426.0 1093.1,425.1 1096.3,424.1 1099.4,423.0 1102.6,421.9 1105.8,420.7 1109.0,419.6 1112.2,418.5 1115.4,417.5 1118.6,416.6 1121.8,415.8 1124.9,415.3 1128.1,414.9 1131.3,414.7 1134.5,414.9 1137.7,415.2 1140.9,415.8 1144.1,416.7 1147.3,417.9 1150.4,419.3 1153.6,420.9 1156.8,422.7 1160.0,424.8 1163.2,427.0 1166.4,429.3 1169.6,431.8 1172.7,434.3 1175.9,436.8 1179.1,439.4 1182.3,441.9 1185.5,444.4 1188.7,446.9 1191.9,449.2 1195.1,451.5 1198.2,453.6 1201.4,455.6 1204.6,457.4 1207.8,459.1 1211.0,460.7 1214.2,462.1 1217.4,463.3 1220.6,464.4 1223.7,465.4 1226.9,466.3 1230.1,467.0 1233.3,467.7 1236.5,468.2 1239.7,468.7 1242.9,469.0 1246.1,469.4 1249.2,469.6 1252.4,469.8 1255.6,470.0 1258.8,470.1 1262.0,470.2 1265.2,470.3 1268.4,470.4 1271.6,470.5 1274.7,470.5 1277.9,470.5" fill="none" stroke="#000" stroke-width="4.5" stroke-linejoin="round" stroke-linecap="round"/>
<g fill="#000" fill-opacity="0.7"><circle cx="932.7" cy="452.0" r="5.85"/><circle cx="932.7" cy="454.5" r="5.85"/><circle cx="932.7" cy="468.4" r="5.85"/><circle cx="942.5" cy="468.1" r="5.85"/><circle cx="952.3" cy="444.1" r="5.85"/><circle cx="981.6" cy="442.8" r="5.85"/><circle cx="1001.1" cy="463.6" r="5.85"/><circle cx="1010.9" cy="447.1" r="5.85"/><circle cx="1010.9" cy="462.0" r="5.85"/><circle cx="1030.5" cy="460.4" r="5.85"/><circle cx="1030.5" cy="466.0" r="5.85"/><circle cx="1040.2" cy="436.0" r="5.85"/><circle cx="1040.2" cy="449.5" r="5.85"/><circle cx="1050.0" cy="449.5" r="5.85"/><circle cx="1059.8" cy="439.0" r="5.85"/><circle cx="1059.8" cy="465.1" r="5.85"/><circle cx="1098.9" cy="429.7" r="5.85"/><circle cx="1098.9" cy="455.3" r="5.85"/><circle cx="1098.9" cy="465.1" r="5.85"/><circle cx="1118.4" cy="437.1" r="5.85"/><circle cx="1118.4" cy="468.6" r="5.85"/><circle cx="1128.2" cy="428.0" r="5.85"/><circle cx="1138.0" cy="421.0" r="5.85"/><circle cx="1138.0" cy="423.5" r="5.85"/><circle cx="1138.0" cy="432.0" r="5.85"/><circle cx="1138.0" cy="466.5" r="5.85"/><circle cx="1147.7" cy="434.3" r="5.85"/><circle cx="1147.7" cy="439.5" r="5.85"/><circle cx="1167.3" cy="433.9" r="5.85"/><circle cx="1167.3" cy="462.3" r="5.85"/><circle cx="1177.0" cy="459.5" r="5.85"/></g></g>
<g><rect x="1012.3" y="549.0" width="387.8" height="2.4" fill="#fff"/><polygon points="1012.3,549.0 1012.3,548.9 1015.5,548.9 1018.7,548.9 1021.9,548.8 1025.1,548.8 1028.3,548.7 1031.4,548.6 1034.6,548.5 1037.8,548.3 1041.0,548.2 1044.2,548.0 1047.4,547.7 1050.6,547.4 1053.8,547.1 1056.9,546.7 1060.1,546.2 1063.3,545.7 1066.5,545.1 1069.7,544.4 1072.9,543.7 1076.1,542.8 1079.3,541.9 1082.4,540.9 1085.6,539.8 1088.8,538.6 1092.0,537.3 1095.2,536.0 1098.4,534.6 1101.6,533.1 1104.8,531.5 1107.9,529.9 1111.1,528.3 1114.3,526.5 1117.5,524.8 1120.7,523.0 1123.9,521.2 1127.1,519.3 1130.3,517.4 1133.4,515.5 1136.6,513.5 1139.8,511.5 1143.0,509.4 1146.2,507.4 1149.4,505.3 1152.6,503.1 1155.8,501.0 1158.9,498.8 1162.1,496.7 1165.3,494.5 1168.5,492.4 1171.7,490.4 1174.9,488.4 1178.1,486.6 1181.2,484.8 1184.4,483.3 1187.6,481.9 1190.8,480.7 1194.0,479.8 1197.2,479.1 1200.4,478.6 1203.6,478.3 1206.7,478.3 1209.9,478.5 1213.1,478.9 1216.3,479.4 1219.5,480.1 1222.7,480.9 1225.9,481.7 1229.1,482.7 1232.2,483.6 1235.4,484.5 1238.6,485.4 1241.8,486.3 1245.0,487.1 1248.2,487.9 1251.4,488.6 1254.6,489.3 1257.7,490.1 1260.9,490.9 1264.1,491.7 1267.3,492.6 1270.5,493.6 1273.7,494.8 1276.9,496.1 1280.1,497.6 1283.2,499.3 1286.4,501.2 1289.6,503.2 1292.8,505.5 1296.0,507.9 1299.2,510.4 1302.4,513.0 1305.6,515.6 1308.7,518.3 1311.9,521.0 1315.1,523.7 1318.3,526.3 1321.5,528.7 1324.7,531.1 1327.9,533.3 1331.0,535.4 1334.2,537.2 1337.4,538.9 1340.6,540.5 1343.8,541.8 1347.0,543.0 1350.2,544.1 1353.4,545.0 1356.5,545.7 1359.7,546.4 1362.9,546.9 1366.1,547.3 1369.3,547.7 1372.5,548.0 1375.7,548.2 1378.9,548.4 1382.0,548.6 1385.2,548.7 1388.4,548.7 1391.6,548.8 1394.8,548.9 1398.0,548.9 1400.1,548.9 1400.1,549.0" fill="#1E9B8A" fill-opacity="0.7"/>
<polyline points="1012.3,548.9 1015.5,548.9 1018.7,548.9 1021.9,548.8 1025.1,548.8 1028.3,548.7 1031.4,548.6 1034.6,548.5 1037.8,548.3 1041.0,548.2 1044.2,548.0 1047.4,547.7 1050.6,547.4 1053.8,547.1 1056.9,546.7 1060.1,546.2 1063.3,545.7 1066.5,545.1 1069.7,544.4 1072.9,543.7 1076.1,542.8 1079.3,541.9 1082.4,540.9 1085.6,539.8 1088.8,538.6 1092.0,537.3 1095.2,536.0 1098.4,534.6 1101.6,533.1 1104.8,531.5 1107.9,529.9 1111.1,528.3 1114.3,526.5 1117.5,524.8 1120.7,523.0 1123.9,521.2 1127.1,519.3 1130.3,517.4 1133.4,515.5 1136.6,513.5 1139.8,511.5 1143.0,509.4 1146.2,507.4 1149.4,505.3 1152.6,503.1 1155.8,501.0 1158.9,498.8 1162.1,496.7 1165.3,494.5 1168.5,492.4 1171.7,490.4 1174.9,488.4 1178.1,486.6 1181.2,484.8 1184.4,483.3 1187.6,481.9 1190.8,480.7 1194.0,479.8 1197.2,479.1 1200.4,478.6 1203.6,478.3 1206.7,478.3 1209.9,478.5 1213.1,478.9 1216.3,479.4 1219.5,480.1 1222.7,480.9 1225.9,481.7 1229.1,482.7 1232.2,483.6 1235.4,484.5 1238.6,485.4 1241.8,486.3 1245.0,487.1 1248.2,487.9 1251.4,488.6 1254.6,489.3 1257.7,490.1 1260.9,490.9 1264.1,491.7 1267.3,492.6 1270.5,493.6 1273.7,494.8 1276.9,496.1 1280.1,497.6 1283.2,499.3 1286.4,501.2 1289.6,503.2 1292.8,505.5 1296.0,507.9 1299.2,510.4 1302.4,513.0 1305.6,515.6 1308.7,518.3 1311.9,521.0 1315.1,523.7 1318.3,526.3 1321.5,528.7 1324.7,531.1 1327.9,533.3 1331.0,535.4 1334.2,537.2 1337.4,538.9 1340.6,540.5 1343.8,541.8 1347.0,543.0 1350.2,544.1 1353.4,545.0 1356.5,545.7 1359.7,546.4 1362.9,546.9 1366.1,547.3 1369.3,547.7 1372.5,548.0 1375.7,548.2 1378.9,548.4 1382.0,548.6 1385.2,548.7 1388.4,548.7 1391.6,548.8 1394.8,548.9 1398.0,548.9 1400.1,548.9" fill="none" stroke="#000" stroke-width="4.5" stroke-linejoin="round" stroke-linecap="round"/>
<g fill="#000" fill-opacity="0.7"><circle cx="1108.6" cy="545.1" r="5.85"/><circle cx="1128.2" cy="530.7" r="5.85"/><circle cx="1138.0" cy="539.3" r="5.85"/><circle cx="1147.7" cy="519.0" r="5.85"/><circle cx="1147.7" cy="536.5" r="5.85"/><circle cx="1167.3" cy="535.3" r="5.85"/><circle cx="1177.0" cy="545.4" r="5.85"/><circle cx="1186.8" cy="496.4" r="5.85"/><circle cx="1186.8" cy="538.1" r="5.85"/><circle cx="1196.6" cy="499.2" r="5.85"/><circle cx="1196.6" cy="509.7" r="5.85"/><circle cx="1196.6" cy="519.0" r="5.85"/><circle cx="1196.6" cy="524.8" r="5.85"/><circle cx="1206.4" cy="498.0" r="5.85"/><circle cx="1206.4" cy="499.5" r="5.85"/><circle cx="1206.4" cy="501.0" r="5.85"/><circle cx="1225.9" cy="491.0" r="5.85"/><circle cx="1225.9" cy="492.5" r="5.85"/><circle cx="1225.9" cy="494.0" r="5.85"/><circle cx="1225.9" cy="531.8" r="5.85"/><circle cx="1255.2" cy="502.7" r="5.85"/><circle cx="1255.2" cy="530.0" r="5.85"/><circle cx="1274.8" cy="503.4" r="5.85"/><circle cx="1274.8" cy="526.0" r="5.85"/><circle cx="1274.8" cy="527.5" r="5.85"/><circle cx="1284.5" cy="501.5" r="5.85"/><circle cx="1284.5" cy="510.8" r="5.85"/><circle cx="1284.5" cy="542.3" r="5.85"/><circle cx="1284.5" cy="543.8" r="5.85"/><circle cx="1294.3" cy="517.8" r="5.85"/></g></g>
<g><rect x="976.2" y="627.4" width="443.0" height="2.4" fill="#fff"/><polygon points="976.2,627.4 976.2,627.3 979.4,627.3 982.6,627.3 985.8,627.2 989.0,627.2 992.1,627.1 995.3,627.0 998.5,626.9 1001.7,626.8 1004.9,626.7 1008.1,626.6 1011.3,626.4 1014.5,626.2 1017.6,626.0 1020.8,625.7 1024.0,625.5 1027.2,625.2 1030.4,624.9 1033.6,624.5 1036.8,624.2 1039.9,623.8 1043.1,623.4 1046.3,622.9 1049.5,622.5 1052.7,622.0 1055.9,621.6 1059.1,621.1 1062.3,620.6 1065.4,620.1 1068.6,619.5 1071.8,619.0 1075.0,618.5 1078.2,617.9 1081.4,617.3 1084.6,616.7 1087.8,616.1 1090.9,615.5 1094.1,614.8 1097.3,614.1 1100.5,613.4 1103.7,612.7 1106.9,611.9 1110.1,611.1 1113.3,610.2 1116.4,609.3 1119.6,608.2 1122.8,607.1 1126.0,606.0 1129.2,604.7 1132.4,603.3 1135.6,601.7 1138.8,600.1 1141.9,598.3 1145.1,596.3 1148.3,594.2 1151.5,592.0 1154.7,589.6 1157.9,587.1 1161.1,584.5 1164.3,581.8 1167.4,579.0 1170.6,576.2 1173.8,573.4 1177.0,570.6 1180.2,567.8 1183.4,565.1 1186.6,562.5 1189.7,560.1 1192.9,557.9 1196.1,555.9 1199.3,554.1 1202.5,552.6 1205.7,551.4 1208.9,550.4 1212.1,549.8 1215.2,549.5 1218.4,549.4 1221.6,549.7 1224.8,550.2 1228.0,550.9 1231.2,551.9 1234.4,553.2 1237.6,554.6 1240.7,556.1 1243.9,557.8 1247.1,559.6 1250.3,561.5 1253.5,563.5 1256.7,565.5 1259.9,567.6 1263.1,569.7 1266.2,571.7 1269.4,573.8 1272.6,575.9 1275.8,578.0 1279.0,580.1 1282.2,582.2 1285.4,584.3 1288.6,586.4 1291.7,588.5 1294.9,590.5 1298.1,592.6 1301.3,594.7 1304.5,596.7 1307.7,598.7 1310.9,600.7 1314.0,602.6 1317.2,604.5 1320.4,606.4 1323.6,608.2 1326.8,609.9 1330.0,611.5 1333.2,613.0 1336.4,614.5 1339.5,615.9 1342.7,617.2 1345.9,618.4 1349.1,619.5 1352.3,620.5 1355.5,621.4 1358.7,622.2 1361.9,623.0 1365.0,623.6 1368.2,624.2 1371.4,624.7 1374.6,625.1 1377.8,625.5 1381.0,625.9 1384.2,626.1 1387.4,626.4 1390.5,626.6 1393.7,626.7 1396.9,626.9 1400.1,627.0 1403.3,627.1 1406.5,627.2 1409.7,627.2 1412.9,627.3 1416.0,627.3 1419.2,627.3 1419.2,627.4" fill="#25858E" fill-opacity="0.7"/>
<polyline points="976.2,627.3 979.4,627.3 982.6,627.3 985.8,627.2 989.0,627.2 992.1,627.1 995.3,627.0 998.5,626.9 1001.7,626.8 1004.9,626.7 1008.1,626.6 1011.3,626.4 1014.5,626.2 1017.6,626.0 1020.8,625.7 1024.0,625.5 1027.2,625.2 1030.4,624.9 1033.6,624.5 1036.8,624.2 1039.9,623.8 1043.1,623.4 1046.3,622.9 1049.5,622.5 1052.7,622.0 1055.9,621.6 1059.1,621.1 1062.3,620.6 1065.4,620.1 1068.6,619.5 1071.8,619.0 1075.0,618.5 1078.2,617.9 1081.4,617.3 1084.6,616.7 1087.8,616.1 1090.9,615.5 1094.1,614.8 1097.3,614.1 1100.5,613.4 1103.7,612.7 1106.9,611.9 1110.1,611.1 1113.3,610.2 1116.4,609.3 1119.6,608.2 1122.8,607.1 1126.0,606.0 1129.2,604.7 1132.4,603.3 1135.6,601.7 1138.8,600.1 1141.9,598.3 1145.1,596.3 1148.3,594.2 1151.5,592.0 1154.7,589.6 1157.9,587.1 1161.1,584.5 1164.3,581.8 1167.4,579.0 1170.6,576.2 1173.8,573.4 1177.0,570.6 1180.2,567.8 1183.4,565.1 1186.6,562.5 1189.7,560.1 1192.9,557.9 1196.1,555.9 1199.3,554.1 1202.5,552.6 1205.7,551.4 1208.9,550.4 1212.1,549.8 1215.2,549.5 1218.4,549.4 1221.6,549.7 1224.8,550.2 1228.0,550.9 1231.2,551.9 1234.4,553.2 1237.6,554.6 1240.7,556.1 1243.9,557.8 1247.1,559.6 1250.3,561.5 1253.5,563.5 1256.7,565.5 1259.9,567.6 1263.1,569.7 1266.2,571.7 1269.4,573.8 1272.6,575.9 1275.8,578.0 1279.0,580.1 1282.2,582.2 1285.4,584.3 1288.6,586.4 1291.7,588.5 1294.9,590.5 1298.1,592.6 1301.3,594.7 1304.5,596.7 1307.7,598.7 1310.9,600.7 1314.0,602.6 1317.2,604.5 1320.4,606.4 1323.6,608.2 1326.8,609.9 1330.0,611.5 1333.2,613.0 1336.4,614.5 1339.5,615.9 1342.7,617.2 1345.9,618.4 1349.1,619.5 1352.3,620.5 1355.5,621.4 1358.7,622.2 1361.9,623.0 1365.0,623.6 1368.2,624.2 1371.4,624.7 1374.6,625.1 1377.8,625.5 1381.0,625.9 1384.2,626.1 1387.4,626.4 1390.5,626.6 1393.7,626.7 1396.9,626.9 1400.1,627.0 1403.3,627.1 1406.5,627.2 1409.7,627.2 1412.9,627.3 1416.0,627.3 1419.2,627.3" fill="none" stroke="#000" stroke-width="4.5" stroke-linejoin="round" stroke-linecap="round"/>
<g fill="#000" fill-opacity="0.7"><circle cx="1069.5" cy="625.2" r="5.85"/><circle cx="1118.4" cy="618.5" r="5.85"/><circle cx="1118.4" cy="620.0" r="5.85"/><circle cx="1147.7" cy="613.5" r="5.85"/><circle cx="1177.0" cy="608.8" r="5.85"/><circle cx="1177.0" cy="619.3" r="5.85"/><circle cx="1177.0" cy="624.7" r="5.85"/><circle cx="1186.8" cy="564.5" r="5.85"/><circle cx="1186.8" cy="574.3" r="5.85"/><circle cx="1196.6" cy="602.3" r="5.85"/><circle cx="1196.6" cy="620.5" r="5.85"/><circle cx="1206.4" cy="587.1" r="5.85"/><circle cx="1206.4" cy="620.5" r="5.85"/><circle cx="1216.1" cy="604.2" r="5.85"/><circle cx="1216.1" cy="615.0" r="5.85"/><circle cx="1216.1" cy="616.6" r="5.85"/><circle cx="1225.9" cy="555.6" r="5.85"/><circle cx="1225.9" cy="569.2" r="5.85"/><circle cx="1225.9" cy="576.2" r="5.85"/><circle cx="1225.9" cy="615.8" r="5.85"/><circle cx="1235.7" cy="591.8" r="5.85"/><circle cx="1245.4" cy="568.7" r="5.85"/><circle cx="1245.4" cy="604.9" r="5.85"/><circle cx="1255.2" cy="578.5" r="5.85"/><circle cx="1265.0" cy="580.4" r="5.85"/><circle cx="1274.8" cy="580.4" r="5.85"/><circle cx="1284.5" cy="603.0" r="5.85"/><circle cx="1284.5" cy="614.0" r="5.85"/><circle cx="1284.5" cy="618.6" r="5.85"/><circle cx="1304.1" cy="613.5" r="5.85"/><circle cx="1323.6" cy="624.7" r="5.85"/></g></g>
<g><rect x="1000.6" y="705.8" width="383.5" height="2.4" fill="#fff"/><polygon points="1000.6,705.8 1000.6,705.7 1003.8,705.7 1007.0,705.6 1010.2,705.6 1013.4,705.5 1016.6,705.5 1019.8,705.4 1023.0,705.2 1026.1,705.1 1029.3,704.9 1032.5,704.7 1035.7,704.4 1038.9,704.1 1042.1,703.7 1045.3,703.2 1048.4,702.7 1051.6,702.1 1054.8,701.5 1058.0,700.7 1061.2,699.9 1064.4,698.9 1067.6,697.9 1070.8,696.8 1073.9,695.6 1077.1,694.4 1080.3,693.0 1083.5,691.6 1086.7,690.1 1089.9,688.5 1093.1,686.8 1096.3,685.2 1099.4,683.4 1102.6,681.6 1105.8,679.8 1109.0,677.9 1112.2,676.0 1115.4,674.1 1118.6,672.1 1121.8,670.1 1124.9,668.1 1128.1,666.0 1131.3,664.0 1134.5,661.9 1137.7,659.7 1140.9,657.6 1144.1,655.5 1147.3,653.3 1150.4,651.2 1153.6,649.2 1156.8,647.2 1160.0,645.2 1163.2,643.4 1166.4,641.7 1169.6,640.0 1172.7,638.6 1175.9,637.2 1179.1,636.1 1182.3,635.1 1185.5,634.2 1188.7,633.6 1191.9,633.1 1195.1,632.8 1198.2,632.6 1201.4,632.6 1204.6,632.7 1207.8,632.9 1211.0,633.2 1214.2,633.6 1217.4,634.2 1220.6,634.8 1223.7,635.5 1226.9,636.4 1230.1,637.3 1233.3,638.4 1236.5,639.5 1239.7,640.8 1242.9,642.3 1246.1,643.9 1249.2,645.6 1252.4,647.5 1255.6,649.6 1258.8,651.8 1262.0,654.1 1265.2,656.6 1268.4,659.2 1271.6,661.8 1274.7,664.6 1277.9,667.4 1281.1,670.1 1284.3,672.9 1287.5,675.7 1290.7,678.4 1293.9,680.9 1297.1,683.4 1300.2,685.8 1303.4,688.0 1306.6,690.1 1309.8,692.1 1313.0,693.8 1316.2,695.5 1319.4,696.9 1322.5,698.2 1325.7,699.4 1328.9,700.4 1332.1,701.3 1335.3,702.1 1338.5,702.7 1341.7,703.3 1344.9,703.8 1348.0,704.2 1351.2,704.5 1354.4,704.8 1357.6,705.0 1360.8,705.2 1364.0,705.3 1367.2,705.4 1370.4,705.5 1373.5,705.6 1376.7,705.6 1379.9,705.7 1383.1,705.7 1384.2,705.7 1384.2,705.8" fill="#2D708E" fill-opacity="0.7"/>
<polyline points="1000.6,705.7 1003.8,705.7 1007.0,705.6 1010.2,705.6 1013.4,705.5 1016.6,705.5 1019.8,705.4 1023.0,705.2 1026.1,705.1 1029.3,704.9 1032.5,704.7 1035.7,704.4 1038.9,704.1 1042.1,703.7 1045.3,703.2 1048.4,702.7 1051.6,702.1 1054.8,701.5 1058.0,700.7 1061.2,699.9 1064.4,698.9 1067.6,697.9 1070.8,696.8 1073.9,695.6 1077.1,694.4 1080.3,693.0 1083.5,691.6 1086.7,690.1 1089.9,688.5 1093.1,686.8 1096.3,685.2 1099.4,683.4 1102.6,681.6 1105.8,679.8 1109.0,677.9 1112.2,676.0 1115.4,674.1 1118.6,672.1 1121.8,670.1 1124.9,668.1 1128.1,666.0 1131.3,664.0 1134.5,661.9 1137.7,659.7 1140.9,657.6 1144.1,655.5 1147.3,653.3 1150.4,651.2 1153.6,649.2 1156.8,647.2 1160.0,645.2 1163.2,643.4 1166.4,641.7 1169.6,640.0 1172.7,638.6 1175.9,637.2 1179.1,636.1 1182.3,635.1 1185.5,634.2 1188.7,633.6 1191.9,633.1 1195.1,632.8 1198.2,632.6 1201.4,632.6 1204.6,632.7 1207.8,632.9 1211.0,633.2 1214.2,633.6 1217.4,634.2 1220.6,634.8 1223.7,635.5 1226.9,636.4 1230.1,637.3 1233.3,638.4 1236.5,639.5 1239.7,640.8 1242.9,642.3 1246.1,643.9 1249.2,645.6 1252.4,647.5 1255.6,649.6 1258.8,651.8 1262.0,654.1 1265.2,656.6 1268.4,659.2 1271.6,661.8 1274.7,664.6 1277.9,667.4 1281.1,670.1 1284.3,672.9 1287.5,675.7 1290.7,678.4 1293.9,680.9 1297.1,683.4 1300.2,685.8 1303.4,688.0 1306.6,690.1 1309.8,692.1 1313.0,693.8 1316.2,695.5 1319.4,696.9 1322.5,698.2 1325.7,699.4 1328.9,700.4 1332.1,701.3 1335.3,702.1 1338.5,702.7 1341.7,703.3 1344.9,703.8 1348.0,704.2 1351.2,704.5 1354.4,704.8 1357.6,705.0 1360.8,705.2 1364.0,705.3 1367.2,705.4 1370.4,705.5 1373.5,705.6 1376.7,705.6 1379.9,705.7 1383.1,705.7 1384.2,705.7" fill="none" stroke="#000" stroke-width="4.5" stroke-linejoin="round" stroke-linecap="round"/>
<g fill="#000" fill-opacity="0.7"><circle cx="1098.9" cy="692.7" r="5.85"/><circle cx="1108.6" cy="696.9" r="5.85"/><circle cx="1118.4" cy="678.2" r="5.85"/><circle cx="1138.0" cy="679.8" r="5.85"/><circle cx="1138.0" cy="701.3" r="5.85"/><circle cx="1147.7" cy="682.9" r="5.85"/><circle cx="1157.5" cy="679.8" r="5.85"/><circle cx="1167.3" cy="673.2" r="5.85"/><circle cx="1167.3" cy="674.8" r="5.85"/><circle cx="1177.0" cy="650.0" r="5.85"/><circle cx="1177.0" cy="674.7" r="5.85"/><circle cx="1186.8" cy="651.8" r="5.85"/><circle cx="1186.8" cy="660.0" r="5.85"/><circle cx="1186.8" cy="669.3" r="5.85"/><circle cx="1196.6" cy="643.0" r="5.85"/><circle cx="1196.6" cy="651.8" r="5.85"/><circle cx="1196.6" cy="663.5" r="5.85"/><circle cx="1206.4" cy="661.9" r="5.85"/><circle cx="1206.4" cy="679.8" r="5.85"/><circle cx="1225.9" cy="672.4" r="5.85"/><circle cx="1225.9" cy="702.5" r="5.85"/><circle cx="1235.7" cy="684.5" r="5.85"/><circle cx="1245.4" cy="651.8" r="5.85"/><circle cx="1245.4" cy="656.0" r="5.85"/><circle cx="1245.4" cy="659.5" r="5.85"/><circle cx="1245.4" cy="671.0" r="5.85"/><circle cx="1255.2" cy="674.7" r="5.85"/><circle cx="1255.2" cy="681.7" r="5.85"/><circle cx="1265.0" cy="684.5" r="5.85"/><circle cx="1274.8" cy="674.5" r="5.85"/><circle cx="1284.5" cy="699.7" r="5.85"/></g></g>
<g><rect x="901.8" y="784.2" width="442.0" height="2.4" fill="#fff"/><polygon points="901.8,784.2 901.8,784.1 905.0,784.1 908.2,784.0 911.4,784.0 914.6,783.9 917.8,783.8 921.0,783.7 924.1,783.6 927.3,783.4 930.5,783.2 933.7,782.9 936.9,782.6 940.1,782.3 943.3,781.8 946.5,781.3 949.6,780.7 952.8,780.0 956.0,779.2 959.2,778.3 962.4,777.4 965.6,776.3 968.8,775.1 972.0,773.8 975.1,772.4 978.3,770.9 981.5,769.3 984.7,767.7 987.9,766.1 991.1,764.4 994.3,762.7 997.5,761.1 1000.6,759.5 1003.8,757.9 1007.0,756.4 1010.2,755.1 1013.4,753.8 1016.6,752.7 1019.8,751.8 1023.0,750.9 1026.1,750.2 1029.3,749.7 1032.5,749.2 1035.7,748.9 1038.9,748.7 1042.1,748.5 1045.3,748.4 1048.4,748.4 1051.6,748.3 1054.8,748.2 1058.0,748.0 1061.2,747.8 1064.4,747.5 1067.6,747.1 1070.8,746.6 1073.9,746.0 1077.1,745.3 1080.3,744.4 1083.5,743.4 1086.7,742.2 1089.9,741.0 1093.1,739.7 1096.3,738.2 1099.4,736.7 1102.6,735.2 1105.8,733.6 1109.0,732.0 1112.2,730.4 1115.4,728.9 1118.6,727.4 1121.8,726.0 1124.9,724.8 1128.1,723.6 1131.3,722.7 1134.5,721.9 1137.7,721.4 1140.9,721.0 1144.1,720.9 1147.3,721.0 1150.4,721.4 1153.6,722.0 1156.8,722.8 1160.0,723.8 1163.2,725.0 1166.4,726.3 1169.6,727.8 1172.7,729.4 1175.9,731.1 1179.1,732.9 1182.3,734.7 1185.5,736.4 1188.7,738.2 1191.9,740.0 1195.1,741.7 1198.2,743.3 1201.4,744.9 1204.6,746.5 1207.8,748.0 1211.0,749.5 1214.2,750.9 1217.4,752.3 1220.6,753.6 1223.7,755.0 1226.9,756.4 1230.1,757.7 1233.3,759.1 1236.5,760.4 1239.7,761.8 1242.9,763.2 1246.1,764.5 1249.2,765.9 1252.4,767.3 1255.6,768.6 1258.8,769.9 1262.0,771.2 1265.2,772.5 1268.4,773.7 1271.6,774.8 1274.7,775.9 1277.9,776.9 1281.1,777.8 1284.3,778.7 1287.5,779.4 1290.7,780.1 1293.9,780.8 1297.1,781.3 1300.2,781.8 1303.4,782.2 1306.6,782.6 1309.8,782.9 1313.0,783.1 1316.2,783.3 1319.4,783.5 1322.5,783.7 1325.7,783.8 1328.9,783.9 1332.1,784.0 1335.3,784.0 1338.5,784.1 1341.7,784.1 1343.8,784.1 1343.8,784.2" fill="#38598C" fill-opacity="0.7"/>
<polyline points="901.8,784.1 905.0,784.1 908.2,784.0 911.4,784.0 914.6,783.9 917.8,783.8 921.0,783.7 924.1,783.6 927.3,783.4 930.5,783.2 933.7,782.9 936.9,782.6 940.1,782.3 943.3,781.8 946.5,781.3 949.6,780.7 952.8,780.0 956.0,779.2 959.2,778.3 962.4,777.4 965.6,776.3 968.8,775.1 972.0,773.8 975.1,772.4 978.3,770.9 981.5,769.3 984.7,767.7 987.9,766.1 991.1,764.4 994.3,762.7 997.5,761.1 1000.6,759.5 1003.8,757.9 1007.0,756.4 1010.2,755.1 1013.4,753.8 1016.6,752.7 1019.8,751.8 1023.0,750.9 1026.1,750.2 1029.3,749.7 1032.5,749.2 1035.7,748.9 1038.9,748.7 1042.1,748.5 1045.3,748.4 1048.4,748.4 1051.6,748.3 1054.8,748.2 1058.0,748.0 1061.2,747.8 1064.4,747.5 1067.6,747.1 1070.8,746.6 1073.9,746.0 1077.1,745.3 1080.3,744.4 1083.5,743.4 1086.7,742.2 1089.9,741.0 1093.1,739.7 1096.3,738.2 1099.4,736.7 1102.6,735.2 1105.8,733.6 1109.0,732.0 1112.2,730.4 1115.4,728.9 1118.6,727.4 1121.8,726.0 1124.9,724.8 1128.1,723.6 1131.3,722.7 1134.5,721.9 1137.7,721.4 1140.9,721.0 1144.1,720.9 1147.3,721.0 1150.4,721.4 1153.6,722.0 1156.8,722.8 1160.0,723.8 1163.2,725.0 1166.4,726.3 1169.6,727.8 1172.7,729.4 1175.9,731.1 1179.1,732.9 1182.3,734.7 1185.5,736.4 1188.7,738.2 1191.9,740.0 1195.1,741.7 1198.2,743.3 1201.4,744.9 1204.6,746.5 1207.8,748.0 1211.0,749.5 1214.2,750.9 1217.4,752.3 1220.6,753.6 1223.7,755.0 1226.9,756.4 1230.1,757.7 1233.3,759.1 1236.5,760.4 1239.7,761.8 1242.9,763.2 1246.1,764.5 1249.2,765.9 1252.4,767.3 1255.6,768.6 1258.8,769.9 1262.0,771.2 1265.2,772.5 1268.4,773.7 1271.6,774.8 1274.7,775.9 1277.9,776.9 1281.1,777.8 1284.3,778.7 1287.5,779.4 1290.7,780.1 1293.9,780.8 1297.1,781.3 1300.2,781.8 1303.4,782.2 1306.6,782.6 1309.8,782.9 1313.0,783.1 1316.2,783.3 1319.4,783.5 1322.5,783.7 1325.7,783.8 1328.9,783.9 1332.1,784.0 1335.3,784.0 1338.5,784.1 1341.7,784.1 1343.8,784.1" fill="none" stroke="#000" stroke-width="4.5" stroke-linejoin="round" stroke-linecap="round"/>
<g fill="#000" fill-opacity="0.7"><circle cx="1001.1" cy="772.8" r="5.85"/><circle cx="1010.9" cy="763.5" r="5.85"/><circle cx="1020.7" cy="781.0" r="5.85"/><circle cx="1020.7" cy="782.3" r="5.85"/><circle cx="1040.2" cy="748.8" r="5.85"/><circle cx="1040.2" cy="761.0" r="5.85"/><circle cx="1040.2" cy="764.5" r="5.85"/><circle cx="1079.3" cy="780.5" r="5.85"/><circle cx="1079.3" cy="782.0" r="5.85"/><circle cx="1098.9" cy="751.2" r="5.85"/><circle cx="1098.9" cy="780.0" r="5.85"/><circle cx="1108.6" cy="758.6" r="5.85"/><circle cx="1118.4" cy="732.5" r="5.85"/><circle cx="1128.2" cy="766.2" r="5.85"/><circle cx="1138.0" cy="730.0" r="5.85"/><circle cx="1138.0" cy="740.5" r="5.85"/><circle cx="1138.0" cy="769.0" r="5.85"/><circle cx="1147.7" cy="767.3" r="5.85"/><circle cx="1147.7" cy="773.6" r="5.85"/><circle cx="1157.5" cy="746.5" r="5.85"/><circle cx="1157.5" cy="748.5" r="5.85"/><circle cx="1157.5" cy="777.8" r="5.85"/><circle cx="1167.3" cy="739.3" r="5.85"/><circle cx="1167.3" cy="756.4" r="5.85"/><circle cx="1196.6" cy="751.4" r="5.85"/><circle cx="1196.6" cy="753.0" r="5.85"/><circle cx="1206.4" cy="769.7" r="5.85"/><circle cx="1225.9" cy="773.2" r="5.85"/><circle cx="1235.7" cy="778.3" r="5.85"/><circle cx="1245.4" cy="769.0" r="5.85"/></g></g>
<g><rect x="760.5" y="862.6" width="488.7" height="2.4" fill="#fff"/><polygon points="760.5,862.6 760.5,862.5 763.7,862.5 766.9,862.5 770.1,862.4 773.3,862.4 776.5,862.3 779.7,862.3 782.8,862.2 786.0,862.1 789.2,862.0 792.4,861.8 795.6,861.7 798.8,861.5 802.0,861.3 805.2,861.1 808.3,860.8 811.5,860.6 814.7,860.3 817.9,860.0 821.1,859.7 824.3,859.4 827.5,859.0 830.7,858.7 833.8,858.3 837.0,857.9 840.2,857.6 843.4,857.2 846.6,856.8 849.8,856.3 853.0,855.9 856.2,855.5 859.3,855.0 862.5,854.4 865.7,853.8 868.9,853.2 872.1,852.5 875.3,851.7 878.5,850.8 881.7,849.9 884.8,848.8 888.0,847.7 891.2,846.5 894.4,845.3 897.6,843.9 900.8,842.5 904.0,841.1 907.1,839.6 910.3,838.1 913.5,836.6 916.7,835.1 919.9,833.7 923.1,832.3 926.3,831.0 929.5,829.7 932.6,828.5 935.8,827.5 939.0,826.5 942.2,825.6 945.4,824.9 948.6,824.2 951.8,823.6 955.0,823.1 958.1,822.7 961.3,822.4 964.5,822.1 967.7,821.8 970.9,821.5 974.1,821.2 977.3,820.9 980.5,820.6 983.6,820.2 986.8,819.7 990.0,819.2 993.2,818.6 996.4,817.9 999.6,817.1 1002.8,816.2 1006.0,815.3 1009.1,814.3 1012.3,813.3 1015.5,812.2 1018.7,811.1 1021.9,810.1 1025.1,809.1 1028.3,808.1 1031.4,807.2 1034.6,806.4 1037.8,805.8 1041.0,805.2 1044.2,804.7 1047.4,804.4 1050.6,804.2 1053.8,804.2 1056.9,804.3 1060.1,804.6 1063.3,805.0 1066.5,805.5 1069.7,806.2 1072.9,807.0 1076.1,807.9 1079.3,809.0 1082.4,810.2 1085.6,811.5 1088.8,812.8 1092.0,814.3 1095.2,815.9 1098.4,817.5 1101.6,819.2 1104.8,820.9 1107.9,822.7 1111.1,824.5 1114.3,826.3 1117.5,828.1 1120.7,829.9 1123.9,831.6 1127.1,833.4 1130.3,835.1 1133.4,836.8 1136.6,838.4 1139.8,840.0 1143.0,841.5 1146.2,843.0 1149.4,844.5 1152.6,845.8 1155.8,847.2 1158.9,848.4 1162.1,849.7 1165.3,850.8 1168.5,851.9 1171.7,853.0 1174.9,854.0 1178.1,854.9 1181.2,855.8 1184.4,856.6 1187.6,857.4 1190.8,858.1 1194.0,858.7 1197.2,859.3 1200.4,859.8 1203.6,860.2 1206.7,860.6 1209.9,860.9 1213.1,861.2 1216.3,861.5 1219.5,861.7 1222.7,861.9 1225.9,862.0 1229.1,862.2 1232.2,862.2 1235.4,862.3 1238.6,862.4 1241.8,862.4 1245.0,862.5 1248.2,862.5 1249.2,862.5 1249.2,862.6" fill="#433E85" fill-opacity="0.7"/>
<polyline points="760.5,862.5 763.7,862.5 766.9,862.5 770.1,862.4 773.3,862.4 776.5,862.3 779.7,862.3 782.8,862.2 786.0,862.1 789.2,862.0 792.4,861.8 795.6,861.7 798.8,861.5 802.0,861.3 805.2,861.1 808.3,860.8 811.5,860.6 814.7,860.3 817.9,860.0 821.1,859.7 824.3,859.4 827.5,859.0 830.7,858.7 833.8,858.3 837.0,857.9 840.2,857.6 843.4,857.2 846.6,856.8 849.8,856.3 853.0,855.9 856.2,855.5 859.3,855.0 862.5,854.4 865.7,853.8 868.9,853.2 872.1,852.5 875.3,851.7 878.5,850.8 881.7,849.9 884.8,848.8 888.0,847.7 891.2,846.5 894.4,845.3 897.6,843.9 900.8,842.5 904.0,841.1 907.1,839.6 910.3,838.1 913.5,836.6 916.7,835.1 919.9,833.7 923.1,832.3 926.3,831.0 929.5,829.7 932.6,828.5 935.8,827.5 939.0,826.5 942.2,825.6 945.4,824.9 948.6,824.2 951.8,823.6 955.0,823.1 958.1,822.7 961.3,822.4 964.5,822.1 967.7,821.8 970.9,821.5 974.1,821.2 977.3,820.9 980.5,820.6 983.6,820.2 986.8,819.7 990.0,819.2 993.2,818.6 996.4,817.9 999.6,817.1 1002.8,816.2 1006.0,815.3 1009.1,814.3 1012.3,813.3 1015.5,812.2 1018.7,811.1 1021.9,810.1 1025.1,809.1 1028.3,808.1 1031.4,807.2 1034.6,806.4 1037.8,805.8 1041.0,805.2 1044.2,804.7 1047.4,804.4 1050.6,804.2 1053.8,804.2 1056.9,804.3 1060.1,804.6 1063.3,805.0 1066.5,805.5 1069.7,806.2 1072.9,807.0 1076.1,807.9 1079.3,809.0 1082.4,810.2 1085.6,811.5 1088.8,812.8 1092.0,814.3 1095.2,815.9 1098.4,817.5 1101.6,819.2 1104.8,820.9 1107.9,822.7 1111.1,824.5 1114.3,826.3 1117.5,828.1 1120.7,829.9 1123.9,831.6 1127.1,833.4 1130.3,835.1 1133.4,836.8 1136.6,838.4 1139.8,840.0 1143.0,841.5 1146.2,843.0 1149.4,844.5 1152.6,845.8 1155.8,847.2 1158.9,848.4 1162.1,849.7 1165.3,850.8 1168.5,851.9 1171.7,853.0 1174.9,854.0 1178.1,854.9 1181.2,855.8 1184.4,856.6 1187.6,857.4 1190.8,858.1 1194.0,858.7 1197.2,859.3 1200.4,859.8 1203.6,860.2 1206.7,860.6 1209.9,860.9 1213.1,861.2 1216.3,861.5 1219.5,861.7 1222.7,861.9 1225.9,862.0 1229.1,862.2 1232.2,862.2 1235.4,862.3 1238.6,862.4 1241.8,862.4 1245.0,862.5 1248.2,862.5 1249.2,862.5" fill="none" stroke="#000" stroke-width="4.5" stroke-linejoin="round" stroke-linecap="round"/>
<g fill="#000" fill-opacity="0.7"><circle cx="854.6" cy="859.7" r="5.85"/><circle cx="913.2" cy="850.3" r="5.85"/><circle cx="923.0" cy="842.2" r="5.85"/><circle cx="923.0" cy="852.7" r="5.85"/><circle cx="942.5" cy="827.0" r="5.85"/><circle cx="942.5" cy="848.7" r="5.85"/><circle cx="962.1" cy="837.5" r="5.85"/><circle cx="962.1" cy="856.9" r="5.85"/><circle cx="971.8" cy="849.5" r="5.85"/><circle cx="971.8" cy="851.0" r="5.85"/><circle cx="991.4" cy="840.3" r="5.85"/><circle cx="1010.9" cy="852.7" r="5.85"/><circle cx="1020.7" cy="840.3" r="5.85"/><circle cx="1020.7" cy="855.5" r="5.85"/><circle cx="1030.5" cy="811.0" r="5.85"/><circle cx="1030.5" cy="812.5" r="5.85"/><circle cx="1030.5" cy="822.3" r="5.85"/><circle cx="1050.0" cy="813.0" r="5.85"/><circle cx="1050.0" cy="852.7" r="5.85"/><circle cx="1059.8" cy="810.5" r="5.85"/><circle cx="1059.8" cy="812.0" r="5.85"/><circle cx="1059.8" cy="852.0" r="5.85"/><circle cx="1069.5" cy="848.7" r="5.85"/><circle cx="1089.1" cy="814.6" r="5.85"/><circle cx="1089.1" cy="857.0" r="5.85"/><circle cx="1089.1" cy="858.5" r="5.85"/><circle cx="1098.9" cy="828.6" r="5.85"/><circle cx="1108.6" cy="827.0" r="5.85"/><circle cx="1108.6" cy="852.2" r="5.85"/><circle cx="1147.7" cy="854.5" r="5.85"/><circle cx="1147.7" cy="855.5" r="5.85"/></g></g>
<g><rect x="641.5" y="941.0" width="495.1" height="2.4" fill="#fff"/><polygon points="641.5,941.0 641.5,940.9 644.7,940.9 647.9,940.9 651.1,940.8 654.3,940.8 657.5,940.7 660.7,940.6 663.9,940.5 667.0,940.4 670.2,940.2 673.4,940.0 676.6,939.8 679.8,939.6 683.0,939.3 686.2,939.0 689.4,938.6 692.5,938.2 695.7,937.7 698.9,937.2 702.1,936.7 705.3,936.1 708.5,935.5 711.7,934.8 714.9,934.1 718.0,933.4 721.2,932.7 724.4,931.9 727.6,931.2 730.8,930.4 734.0,929.6 737.2,928.9 740.3,928.2 743.5,927.5 746.7,926.8 749.9,926.1 753.1,925.4 756.3,924.8 759.5,924.1 762.7,923.5 765.8,922.8 769.0,922.2 772.2,921.5 775.4,920.8 778.6,920.1 781.8,919.3 785.0,918.5 788.2,917.6 791.3,916.7 794.5,915.7 797.7,914.7 800.9,913.7 804.1,912.6 807.3,911.5 810.5,910.3 813.7,909.2 816.8,908.0 820.0,906.9 823.2,905.7 826.4,904.6 829.6,903.6 832.8,902.5 836.0,901.6 839.2,900.7 842.3,899.9 845.5,899.1 848.7,898.5 851.9,897.9 855.1,897.4 858.3,897.1 861.5,896.8 864.7,896.7 867.8,896.7 871.0,896.8 874.2,897.0 877.4,897.3 880.6,897.8 883.8,898.3 887.0,899.0 890.1,899.7 893.3,900.5 896.5,901.3 899.7,902.2 902.9,903.1 906.1,904.0 909.3,904.9 912.5,905.7 915.6,906.5 918.8,907.2 922.0,907.8 925.2,908.3 928.4,908.6 931.6,908.7 934.8,908.7 938.0,908.6 941.1,908.2 944.3,907.6 947.5,906.9 950.7,906.0 953.9,904.9 957.1,903.7 960.3,902.4 963.5,900.9 966.6,899.5 969.8,898.0 973.0,896.5 976.2,895.1 979.4,893.8 982.6,892.6 985.8,891.6 989.0,890.8 992.1,890.3 995.3,890.1 998.5,890.1 1001.7,890.5 1004.9,891.2 1008.1,892.1 1011.3,893.4 1014.5,894.9 1017.6,896.7 1020.8,898.7 1024.0,900.8 1027.2,903.2 1030.4,905.6 1033.6,908.1 1036.8,910.6 1039.9,913.1 1043.1,915.6 1046.3,918.0 1049.5,920.4 1052.7,922.6 1055.9,924.7 1059.1,926.6 1062.3,928.4 1065.4,930.1 1068.6,931.6 1071.8,932.9 1075.0,934.1 1078.2,935.2 1081.4,936.1 1084.6,936.9 1087.8,937.6 1090.9,938.2 1094.1,938.7 1097.3,939.1 1100.5,939.5 1103.7,939.8 1106.9,940.0 1110.1,940.2 1113.3,940.4 1116.4,940.5 1119.6,940.6 1122.8,940.7 1126.0,940.8 1129.2,940.8 1132.4,940.9 1135.6,940.9 1136.6,940.9 1136.6,941.0" fill="#482173" fill-opacity="0.7"/>
<polyline points="641.5,940.9 644.7,940.9 647.9,940.9 651.1,940.8 654.3,940.8 657.5,940.7 660.7,940.6 663.9,940.5 667.0,940.4 670.2,940.2 673.4,940.0 676.6,939.8 679.8,939.6 683.0,939.3 686.2,939.0 689.4,938.6 692.5,938.2 695.7,937.7 698.9,937.2 702.1,936.7 705.3,936.1 708.5,935.5 711.7,934.8 714.9,934.1 718.0,933.4 721.2,932.7 724.4,931.9 727.6,931.2 730.8,930.4 734.0,929.6 737.2,928.9 740.3,928.2 743.5,927.5 746.7,926.8 749.9,926.1 753.1,925.4 756.3,924.8 759.5,924.1 762.7,923.5 765.8,922.8 769.0,922.2 772.2,921.5 775.4,920.8 778.6,920.1 781.8,919.3 785.0,918.5 788.2,917.6 791.3,916.7 794.5,915.7 797.7,914.7 800.9,913.7 804.1,912.6 807.3,911.5 810.5,910.3 813.7,909.2 816.8,908.0 820.0,906.9 823.2,905.7 826.4,904.6 829.6,903.6 832.8,902.5 836.0,901.6 839.2,900.7 842.3,899.9 845.5,899.1 848.7,898.5 851.9,897.9 855.1,897.4 858.3,897.1 861.5,896.8 864.7,896.7 867.8,896.7 871.0,896.8 874.2,897.0 877.4,897.3 880.6,897.8 883.8,898.3 887.0,899.0 890.1,899.7 893.3,900.5 896.5,901.3 899.7,902.2 902.9,903.1 906.1,904.0 909.3,904.9 912.5,905.7 915.6,906.5 918.8,907.2 922.0,907.8 925.2,908.3 928.4,908.6 931.6,908.7 934.8,908.7 938.0,908.6 941.1,908.2 944.3,907.6 947.5,906.9 950.7,906.0 953.9,904.9 957.1,903.7 960.3,902.4 963.5,900.9 966.6,899.5 969.8,898.0 973.0,896.5 976.2,895.1 979.4,893.8 982.6,892.6 985.8,891.6 989.0,890.8 992.1,890.3 995.3,890.1 998.5,890.1 1001.7,890.5 1004.9,891.2 1008.1,892.1 1011.3,893.4 1014.5,894.9 1017.6,896.7 1020.8,898.7 1024.0,900.8 1027.2,903.2 1030.4,905.6 1033.6,908.1 1036.8,910.6 1039.9,913.1 1043.1,915.6 1046.3,918.0 1049.5,920.4 1052.7,922.6 1055.9,924.7 1059.1,926.6 1062.3,928.4 1065.4,930.1 1068.6,931.6 1071.8,932.9 1075.0,934.1 1078.2,935.2 1081.4,936.1 1084.6,936.9 1087.8,937.6 1090.9,938.2 1094.1,938.7 1097.3,939.1 1100.5,939.5 1103.7,939.8 1106.9,940.0 1110.1,940.2 1113.3,940.4 1116.4,940.5 1119.6,940.6 1122.8,940.7 1126.0,940.8 1129.2,940.8 1132.4,940.9 1135.6,940.9 1136.6,940.9" fill="none" stroke="#000" stroke-width="4.5" stroke-linejoin="round" stroke-linecap="round"/>
<g fill="#000" fill-opacity="0.7"><circle cx="737.3" cy="940.5" r="5.85"/><circle cx="756.8" cy="927.7" r="5.85"/><circle cx="776.4" cy="930.7" r="5.85"/><circle cx="805.7" cy="917.6" r="5.85"/><circle cx="815.5" cy="934.7" r="5.85"/><circle cx="825.2" cy="914.8" r="5.85"/><circle cx="835.0" cy="933.0" r="5.85"/><circle cx="844.8" cy="917.9" r="5.85"/><circle cx="854.6" cy="902.7" r="5.85"/><circle cx="854.6" cy="922.5" r="5.85"/><circle cx="874.1" cy="924.9" r="5.85"/><circle cx="874.1" cy="937.0" r="5.85"/><circle cx="883.9" cy="910.6" r="5.85"/><circle cx="893.7" cy="907.4" r="5.85"/><circle cx="893.7" cy="934.0" r="5.85"/><circle cx="903.4" cy="906.0" r="5.85"/><circle cx="932.7" cy="923.0" r="5.85"/><circle cx="932.7" cy="924.5" r="5.85"/><circle cx="962.1" cy="915.3" r="5.85"/><circle cx="981.6" cy="893.5" r="5.85"/><circle cx="981.6" cy="918.7" r="5.85"/><circle cx="991.4" cy="916.8" r="5.85"/><circle cx="991.4" cy="933.6" r="5.85"/><circle cx="1001.1" cy="896.5" r="5.85"/><circle cx="1001.1" cy="933.2" r="5.85"/><circle cx="1010.9" cy="909.8" r="5.85"/><circle cx="1010.9" cy="918.0" r="5.85"/><circle cx="1010.9" cy="925.0" r="5.85"/><circle cx="1010.9" cy="933.2" r="5.85"/><circle cx="1040.2" cy="922.7" r="5.85"/></g></g>
<g><rect x="340.9" y="1019.4" width="627.9" height="2.4" fill="#fff"/><polygon points="340.9,1019.4 340.9,1019.3 344.1,1019.3 347.3,1019.3 350.4,1019.2 353.6,1019.2 356.8,1019.1 360.0,1019.0 363.2,1018.9 366.4,1018.8 369.6,1018.7 372.8,1018.6 375.9,1018.4 379.1,1018.2 382.3,1018.0 385.5,1017.8 388.7,1017.6 391.9,1017.3 395.1,1017.0 398.3,1016.7 401.4,1016.4 404.6,1016.1 407.8,1015.7 411.0,1015.4 414.2,1015.1 417.4,1014.8 420.6,1014.4 423.8,1014.1 426.9,1013.9 430.1,1013.6 433.3,1013.4 436.5,1013.1 439.7,1013.0 442.9,1012.8 446.1,1012.7 449.3,1012.6 452.4,1012.5 455.6,1012.4 458.8,1012.4 462.0,1012.4 465.2,1012.5 468.4,1012.5 471.6,1012.6 474.7,1012.8 477.9,1012.9 481.1,1013.1 484.3,1013.3 487.5,1013.5 490.7,1013.7 493.9,1013.9 497.1,1014.2 500.2,1014.4 503.4,1014.6 506.6,1014.8 509.8,1015.0 513.0,1015.2 516.2,1015.3 519.4,1015.3 522.6,1015.3 525.7,1015.3 528.9,1015.1 532.1,1014.9 535.3,1014.6 538.5,1014.2 541.7,1013.7 544.9,1013.2 548.1,1012.5 551.2,1011.8 554.4,1011.0 557.6,1010.1 560.8,1009.2 564.0,1008.2 567.2,1007.2 570.4,1006.1 573.6,1005.0 576.7,1003.9 579.9,1002.7 583.1,1001.5 586.3,1000.4 589.5,999.3 592.7,998.1 595.9,997.0 599.0,996.0 602.2,994.9 605.4,994.0 608.6,993.0 611.8,992.1 615.0,991.3 618.2,990.6 621.4,990.0 624.5,989.4 627.7,989.0 630.9,988.7 634.1,988.4 637.3,988.3 640.5,988.3 643.7,988.5 646.9,988.7 650.0,989.1 653.2,989.6 656.4,990.1 659.6,990.8 662.8,991.5 666.0,992.2 669.2,992.9 672.4,993.7 675.5,994.4 678.7,995.0 681.9,995.6 685.1,996.1 688.3,996.5 691.5,996.8 694.7,996.9 697.9,996.9 701.0,996.8 704.2,996.5 707.4,996.1 710.6,995.5 713.8,994.8 717.0,993.9 720.2,992.9 723.4,991.7 726.5,990.5 729.7,989.1 732.9,987.6 736.1,986.0 739.3,984.4 742.5,982.7 745.7,981.0 748.8,979.3 752.0,977.7 755.2,976.0 758.4,974.5 761.6,973.1 764.8,971.8 768.0,970.7 771.2,969.8 774.3,969.1 777.5,968.5 780.7,968.2 783.9,968.0 787.1,968.0 790.3,968.2 793.5,968.6 796.7,969.1 799.8,969.7 803.0,970.4 806.2,971.1 809.4,971.9 812.6,972.7 815.8,973.6 819.0,974.4 822.2,975.3 825.3,976.2 828.5,977.0 831.7,978.0 834.9,978.9 838.1,979.9 841.3,980.9 844.5,982.0 847.7,983.2 850.8,984.4 854.0,985.8 857.2,987.2 860.4,988.7 863.6,990.3 866.8,992.0 870.0,993.7 873.2,995.5 876.3,997.2 879.5,999.0 882.7,1000.8 885.9,1002.5 889.1,1004.2 892.3,1005.8 895.5,1007.3 898.6,1008.8 901.8,1010.1 905.0,1011.3 908.2,1012.5 911.4,1013.5 914.6,1014.4 917.8,1015.2 921.0,1015.9 924.1,1016.5 927.3,1017.0 930.5,1017.5 933.7,1017.9 936.9,1018.2 940.1,1018.4 943.3,1018.6 946.5,1018.8 949.6,1018.9 952.8,1019.1 956.0,1019.1 959.2,1019.2 962.4,1019.3 965.6,1019.3 968.8,1019.3 968.8,1019.4" fill="#440154" fill-opacity="0.7"/>
<polyline points="340.9,1019.3 344.1,1019.3 347.3,1019.3 350.4,1019.2 353.6,1019.2 356.8,1019.1 360.0,1019.0 363.2,1018.9 366.4,1018.8 369.6,1018.7 372.8,1018.6 375.9,1018.4 379.1,1018.2 382.3,1018.0 385.5,1017.8 388.7,1017.6 391.9,1017.3 395.1,1017.0 398.3,1016.7 401.4,1016.4 404.6,1016.1 407.8,1015.7 411.0,1015.4 414.2,1015.1 417.4,1014.8 420.6,1014.4 423.8,1014.1 426.9,1013.9 430.1,1013.6 433.3,1013.4 436.5,1013.1 439.7,1013.0 442.9,1012.8 446.1,1012.7 449.3,1012.6 452.4,1012.5 455.6,1012.4 458.8,1012.4 462.0,1012.4 465.2,1012.5 468.4,1012.5 471.6,1012.6 474.7,1012.8 477.9,1012.9 481.1,1013.1 484.3,1013.3 487.5,1013.5 490.7,1013.7 493.9,1013.9 497.1,1014.2 500.2,1014.4 503.4,1014.6 506.6,1014.8 509.8,1015.0 513.0,1015.2 516.2,1015.3 519.4,1015.3 522.6,1015.3 525.7,1015.3 528.9,1015.1 532.1,1014.9 535.3,1014.6 538.5,1014.2 541.7,1013.7 544.9,1013.2 548.1,1012.5 551.2,1011.8 554.4,1011.0 557.6,1010.1 560.8,1009.2 564.0,1008.2 567.2,1007.2 570.4,1006.1 573.6,1005.0 576.7,1003.9 579.9,1002.7 583.1,1001.5 586.3,1000.4 589.5,999.3 592.7,998.1 595.9,997.0 599.0,996.0 602.2,994.9 605.4,994.0 608.6,993.0 611.8,992.1 615.0,991.3 618.2,990.6 621.4,990.0 624.5,989.4 627.7,989.0 630.9,988.7 634.1,988.4 637.3,988.3 640.5,988.3 643.7,988.5 646.9,988.7 650.0,989.1 653.2,989.6 656.4,990.1 659.6,990.8 662.8,991.5 666.0,992.2 669.2,992.9 672.4,993.7 675.5,994.4 678.7,995.0 681.9,995.6 685.1,996.1 688.3,996.5 691.5,996.8 694.7,996.9 697.9,996.9 701.0,996.8 704.2,996.5 707.4,996.1 710.6,995.5 713.8,994.8 717.0,993.9 720.2,992.9 723.4,991.7 726.5,990.5 729.7,989.1 732.9,987.6 736.1,986.0 739.3,984.4 742.5,982.7 745.7,981.0 748.8,979.3 752.0,977.7 755.2,976.0 758.4,974.5 761.6,973.1 764.8,971.8 768.0,970.7 771.2,969.8 774.3,969.1 777.5,968.5 780.7,968.2 783.9,968.0 787.1,968.0 790.3,968.2 793.5,968.6 796.7,969.1 799.8,969.7 803.0,970.4 806.2,971.1 809.4,971.9 812.6,972.7 815.8,973.6 819.0,974.4 822.2,975.3 825.3,976.2 828.5,977.0 831.7,978.0 834.9,978.9 838.1,979.9 841.3,980.9 844.5,982.0 847.7,983.2 850.8,984.4 854.0,985.8 857.2,987.2 860.4,988.7 863.6,990.3 866.8,992.0 870.0,993.7 873.2,995.5 876.3,997.2 879.5,999.0 882.7,1000.8 885.9,1002.5 889.1,1004.2 892.3,1005.8 895.5,1007.3 898.6,1008.8 901.8,1010.1 905.0,1011.3 908.2,1012.5 911.4,1013.5 914.6,1014.4 917.8,1015.2 921.0,1015.9 924.1,1016.5 927.3,1017.0 930.5,1017.5 933.7,1017.9 936.9,1018.2 940.1,1018.4 943.3,1018.6 946.5,1018.8 949.6,1018.9 952.8,1019.1 956.0,1019.1 959.2,1019.2 962.4,1019.3 965.6,1019.3 968.8,1019.3" fill="none" stroke="#000" stroke-width="4.5" stroke-linejoin="round" stroke-linecap="round"/>
<g fill="#000" fill-opacity="0.7"><circle cx="434.4" cy="1014.2" r="5.85"/><circle cx="483.2" cy="1018.8" r="5.85"/><circle cx="580.9" cy="1010.2" r="5.85"/><circle cx="590.7" cy="1005.3" r="5.85"/><circle cx="610.3" cy="997.8" r="5.85"/><circle cx="620.0" cy="996.7" r="5.85"/><circle cx="639.6" cy="1004.1" r="5.85"/><circle cx="649.4" cy="989.0" r="5.85"/><circle cx="649.4" cy="1002.0" r="5.85"/><circle cx="649.4" cy="1018.1" r="5.85"/><circle cx="668.9" cy="1003.7" r="5.85"/><circle cx="708.0" cy="999.0" r="5.85"/><circle cx="727.5" cy="1011.0" r="5.85"/><circle cx="727.5" cy="1016.6" r="5.85"/><circle cx="756.8" cy="978.2" r="5.85"/><circle cx="776.4" cy="984.6" r="5.85"/><circle cx="776.4" cy="989.4" r="5.85"/><circle cx="776.4" cy="994.2" r="5.85"/><circle cx="776.4" cy="998.2" r="5.85"/><circle cx="776.4" cy="1016.6" r="5.85"/><circle cx="776.4" cy="1018.0" r="5.85"/><circle cx="786.2" cy="984.6" r="5.85"/><circle cx="786.2" cy="986.2" r="5.85"/><circle cx="815.5" cy="999.8" r="5.85"/><circle cx="825.2" cy="988.6" r="5.85"/><circle cx="825.2" cy="997.1" r="5.85"/><circle cx="844.8" cy="985.5" r="5.85"/><circle cx="844.8" cy="987.0" r="5.85"/><circle cx="854.6" cy="1014.7" r="5.85"/><circle cx="864.3" cy="1005.4" r="5.85"/><circle cx="864.3" cy="1014.2" r="5.85"/></g></g>
</g>
<g font-family="'Liberation Sans', Arial, sans-serif">
<text transform="translate(281.2,62.0) scale(0.967,1)" font-size="56" fill="#000" text-anchor="start">Temperatures in Lincoln NE in 2016</text>
<text transform="translate(261.3,170.1)" font-size="37.6" fill="#4d4d4d" text-anchor="end">January</text>
<text transform="translate(261.3,248.5)" font-size="37.6" fill="#4d4d4d" text-anchor="end">February</text>
<text transform="translate(261.3,326.9)" font-size="37.6" fill="#4d4d4d" text-anchor="end">March</text>
<text transform="translate(261.3,405.3)" font-size="37.6" fill="#4d4d4d" text-anchor="end">April</text>
<text transform="translate(261.3,483.7)" font-size="37.6" fill="#4d4d4d" text-anchor="end">May</text>
<text transform="translate(261.3,562.1)" font-size="37.6" fill="#4d4d4d" text-anchor="end">June</text>
<text transform="translate(261.3,640.5)" font-size="37.6" fill="#4d4d4d" text-anchor="end">July</text>
<text transform="translate(261.3,718.9)" font-size="37.6" fill="#4d4d4d" text-anchor="end">August</text>
<text transform="translate(261.3,797.3)" font-size="37.6" fill="#4d4d4d" text-anchor="end">September</text>
<text transform="translate(261.3,875.7)" font-size="37.6" fill="#4d4d4d" text-anchor="end">October</text>
<text transform="translate(261.3,954.1)" font-size="37.6" fill="#4d4d4d" text-anchor="end">November</text>
<text transform="translate(261.3,1032.5)" font-size="37.6" fill="#4d4d4d" text-anchor="end">December</text>
<text transform="translate(493.0,1113.4) scale(1.02,1)" font-size="37.6" fill="#4d4d4d" text-anchor="middle">0</text>
<text transform="translate(737.3,1113.4) scale(1.02,1)" font-size="37.6" fill="#4d4d4d" text-anchor="middle">25</text>
<text transform="translate(981.6,1113.4) scale(1.02,1)" font-size="37.6" fill="#4d4d4d" text-anchor="middle">50</text>
<text transform="translate(1225.9,1113.4) scale(1.02,1)" font-size="37.6" fill="#4d4d4d" text-anchor="middle">75</text>
<text transform="translate(1470.2,1113.4) scale(1.02,1)" font-size="37.6" fill="#4d4d4d" text-anchor="middle">100</text>
<text transform="translate(880.0,1166.2) scale(0.997,1)" font-size="46.3" fill="#000" text-anchor="middle">Mean Temperature [F]</text>
<text transform="translate(56.8,581.4) rotate(-90) scale(0.997,1)" font-size="46.1" fill="#000" text-anchor="middle">Month</text>
</g>
<g font-family="'Liberation Sans', 'Noto Sans CJK SC', sans-serif" font-weight="500">
<text transform="translate(1139.8,1157.2) scale(1.088,1)" font-size="44" fill="#b0b0b0">知乎</text><text transform="translate(1247.6,1152.8) scale(0.965,1)" font-size="45.5" fill="#b0b0b0">@</text><text transform="translate(1291.4,1157.2) scale(0.984,1)" font-size="44" fill="#b0b0b0">数据之帆</text>
<text transform="translate(1137.6,1155.0) scale(1.088,1)" font-size="44" fill="#fff">知乎</text><text transform="translate(1245.4,1150.6) scale(0.965,1)" font-size="45.5" fill="#fff">@</text><text transform="translate(1289.2,1155.0) scale(0.984,1)" font-size="44" fill="#fff">数据之帆</text>
</g>
</svg>
</body></html>
